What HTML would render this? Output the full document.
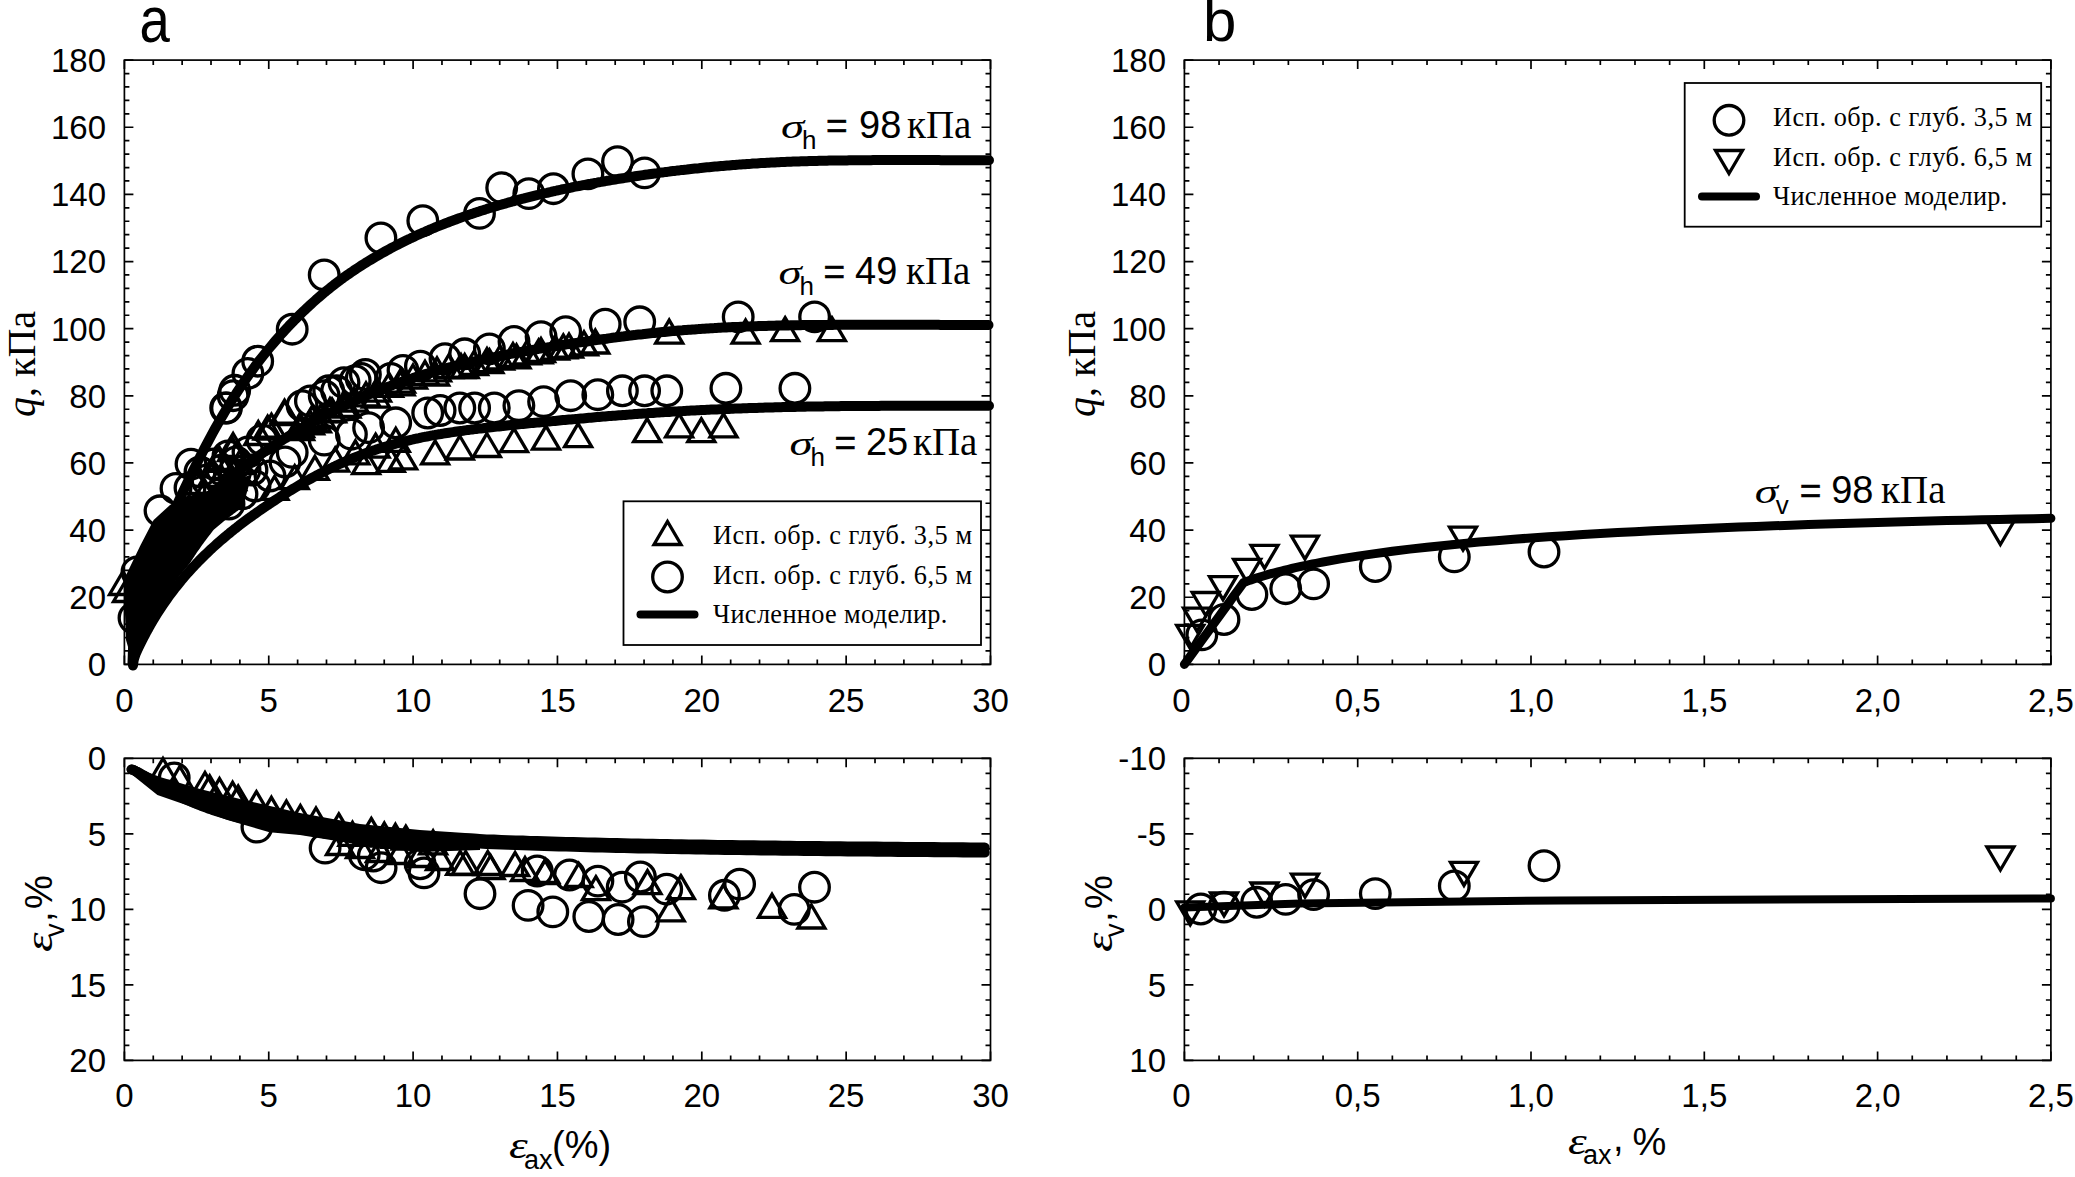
<!DOCTYPE html>
<html><head><meta charset="utf-8"><style>
html,body{margin:0;padding:0;background:#fff;width:2075px;height:1177px;overflow:hidden}
svg{display:block}
</style></head><body>
<svg width="2075" height="1177" viewBox="0 0 2075 1177"><rect x="124.4" y="60.1" width="866.1" height="604.3" fill="none" stroke="#000" stroke-width="1.7"/>
<path d="M124.40 664.4v-9M124.40 60.1v9M153.27 664.4v-5M153.27 60.1v5M182.14 664.4v-5M182.14 60.1v5M211.01 664.4v-5M211.01 60.1v5M239.88 664.4v-5M239.88 60.1v5M268.75 664.4v-9M268.75 60.1v9M297.62 664.4v-5M297.62 60.1v5M326.49 664.4v-5M326.49 60.1v5M355.36 664.4v-5M355.36 60.1v5M384.23 664.4v-5M384.23 60.1v5M413.10 664.4v-9M413.10 60.1v9M441.97 664.4v-5M441.97 60.1v5M470.84 664.4v-5M470.84 60.1v5M499.71 664.4v-5M499.71 60.1v5M528.58 664.4v-5M528.58 60.1v5M557.45 664.4v-9M557.45 60.1v9M586.32 664.4v-5M586.32 60.1v5M615.19 664.4v-5M615.19 60.1v5M644.06 664.4v-5M644.06 60.1v5M672.93 664.4v-5M672.93 60.1v5M701.80 664.4v-9M701.80 60.1v9M730.67 664.4v-5M730.67 60.1v5M759.54 664.4v-5M759.54 60.1v5M788.41 664.4v-5M788.41 60.1v5M817.28 664.4v-5M817.28 60.1v5M846.15 664.4v-9M846.15 60.1v9M875.02 664.4v-5M875.02 60.1v5M903.89 664.4v-5M903.89 60.1v5M932.76 664.4v-5M932.76 60.1v5M961.63 664.4v-5M961.63 60.1v5M990.50 664.4v-9M990.50 60.1v9M124.4 664.40h9M990.5 664.40h-9M124.4 650.97h5M990.5 650.97h-5M124.4 637.54h5M990.5 637.54h-5M124.4 624.11h5M990.5 624.11h-5M124.4 610.68h5M990.5 610.68h-5M124.4 597.26h9M990.5 597.26h-9M124.4 583.83h5M990.5 583.83h-5M124.4 570.40h5M990.5 570.40h-5M124.4 556.97h5M990.5 556.97h-5M124.4 543.54h5M990.5 543.54h-5M124.4 530.11h9M990.5 530.11h-9M124.4 516.68h5M990.5 516.68h-5M124.4 503.25h5M990.5 503.25h-5M124.4 489.82h5M990.5 489.82h-5M124.4 476.40h5M990.5 476.40h-5M124.4 462.97h9M990.5 462.97h-9M124.4 449.54h5M990.5 449.54h-5M124.4 436.11h5M990.5 436.11h-5M124.4 422.68h5M990.5 422.68h-5M124.4 409.25h5M990.5 409.25h-5M124.4 395.82h9M990.5 395.82h-9M124.4 382.39h5M990.5 382.39h-5M124.4 368.96h5M990.5 368.96h-5M124.4 355.54h5M990.5 355.54h-5M124.4 342.11h5M990.5 342.11h-5M124.4 328.68h9M990.5 328.68h-9M124.4 315.25h5M990.5 315.25h-5M124.4 301.82h5M990.5 301.82h-5M124.4 288.39h5M990.5 288.39h-5M124.4 274.96h5M990.5 274.96h-5M124.4 261.53h9M990.5 261.53h-9M124.4 248.10h5M990.5 248.10h-5M124.4 234.68h5M990.5 234.68h-5M124.4 221.25h5M990.5 221.25h-5M124.4 207.82h5M990.5 207.82h-5M124.4 194.39h9M990.5 194.39h-9M124.4 180.96h5M990.5 180.96h-5M124.4 167.53h5M990.5 167.53h-5M124.4 154.10h5M990.5 154.10h-5M124.4 140.67h5M990.5 140.67h-5M124.4 127.24h9M990.5 127.24h-9M124.4 113.82h5M990.5 113.82h-5M124.4 100.39h5M990.5 100.39h-5M124.4 86.96h5M990.5 86.96h-5M124.4 73.53h5M990.5 73.53h-5M124.4 60.10h9M990.5 60.10h-9" stroke="#000" stroke-width="1.7" fill="none"/>
<rect x="124.4" y="758.3" width="866.1" height="302.10000000000014" fill="none" stroke="#000" stroke-width="1.7"/>
<path d="M124.40 1060.4v-9M124.40 758.3v9M153.27 1060.4v-5M153.27 758.3v5M182.14 1060.4v-5M182.14 758.3v5M211.01 1060.4v-5M211.01 758.3v5M239.88 1060.4v-5M239.88 758.3v5M268.75 1060.4v-9M268.75 758.3v9M297.62 1060.4v-5M297.62 758.3v5M326.49 1060.4v-5M326.49 758.3v5M355.36 1060.4v-5M355.36 758.3v5M384.23 1060.4v-5M384.23 758.3v5M413.10 1060.4v-9M413.10 758.3v9M441.97 1060.4v-5M441.97 758.3v5M470.84 1060.4v-5M470.84 758.3v5M499.71 1060.4v-5M499.71 758.3v5M528.58 1060.4v-5M528.58 758.3v5M557.45 1060.4v-9M557.45 758.3v9M586.32 1060.4v-5M586.32 758.3v5M615.19 1060.4v-5M615.19 758.3v5M644.06 1060.4v-5M644.06 758.3v5M672.93 1060.4v-5M672.93 758.3v5M701.80 1060.4v-9M701.80 758.3v9M730.67 1060.4v-5M730.67 758.3v5M759.54 1060.4v-5M759.54 758.3v5M788.41 1060.4v-5M788.41 758.3v5M817.28 1060.4v-5M817.28 758.3v5M846.15 1060.4v-9M846.15 758.3v9M875.02 1060.4v-5M875.02 758.3v5M903.89 1060.4v-5M903.89 758.3v5M932.76 1060.4v-5M932.76 758.3v5M961.63 1060.4v-5M961.63 758.3v5M990.50 1060.4v-9M990.50 758.3v9M124.4 758.30h9M990.5 758.30h-9M124.4 773.40h5M990.5 773.40h-5M124.4 788.51h5M990.5 788.51h-5M124.4 803.62h5M990.5 803.62h-5M124.4 818.72h5M990.5 818.72h-5M124.4 833.83h9M990.5 833.83h-9M124.4 848.93h5M990.5 848.93h-5M124.4 864.03h5M990.5 864.03h-5M124.4 879.14h5M990.5 879.14h-5M124.4 894.25h5M990.5 894.25h-5M124.4 909.35h9M990.5 909.35h-9M124.4 924.46h5M990.5 924.46h-5M124.4 939.56h5M990.5 939.56h-5M124.4 954.67h5M990.5 954.67h-5M124.4 969.77h5M990.5 969.77h-5M124.4 984.88h9M990.5 984.88h-9M124.4 999.98h5M990.5 999.98h-5M124.4 1015.09h5M990.5 1015.09h-5M124.4 1030.19h5M990.5 1030.19h-5M124.4 1045.30h5M990.5 1045.30h-5M124.4 1060.40h9M990.5 1060.40h-9" stroke="#000" stroke-width="1.7" fill="none"/>
<rect x="1184.4" y="60.1" width="866.5" height="604.3" fill="none" stroke="#000" stroke-width="1.7"/>
<path d="M1184.40 664.4v-9M1184.40 60.1v9M1219.06 664.4v-5M1219.06 60.1v5M1253.72 664.4v-5M1253.72 60.1v5M1288.38 664.4v-5M1288.38 60.1v5M1323.04 664.4v-5M1323.04 60.1v5M1357.70 664.4v-9M1357.70 60.1v9M1392.36 664.4v-5M1392.36 60.1v5M1427.02 664.4v-5M1427.02 60.1v5M1461.68 664.4v-5M1461.68 60.1v5M1496.34 664.4v-5M1496.34 60.1v5M1531.00 664.4v-9M1531.00 60.1v9M1565.66 664.4v-5M1565.66 60.1v5M1600.32 664.4v-5M1600.32 60.1v5M1634.98 664.4v-5M1634.98 60.1v5M1669.64 664.4v-5M1669.64 60.1v5M1704.30 664.4v-9M1704.30 60.1v9M1738.96 664.4v-5M1738.96 60.1v5M1773.62 664.4v-5M1773.62 60.1v5M1808.28 664.4v-5M1808.28 60.1v5M1842.94 664.4v-5M1842.94 60.1v5M1877.60 664.4v-9M1877.60 60.1v9M1912.26 664.4v-5M1912.26 60.1v5M1946.92 664.4v-5M1946.92 60.1v5M1981.58 664.4v-5M1981.58 60.1v5M2016.24 664.4v-5M2016.24 60.1v5M2050.90 664.4v-9M2050.90 60.1v9M1184.4 664.40h9M2050.9 664.40h-9M1184.4 650.97h5M2050.9 650.97h-5M1184.4 637.54h5M2050.9 637.54h-5M1184.4 624.11h5M2050.9 624.11h-5M1184.4 610.68h5M2050.9 610.68h-5M1184.4 597.26h9M2050.9 597.26h-9M1184.4 583.83h5M2050.9 583.83h-5M1184.4 570.40h5M2050.9 570.40h-5M1184.4 556.97h5M2050.9 556.97h-5M1184.4 543.54h5M2050.9 543.54h-5M1184.4 530.11h9M2050.9 530.11h-9M1184.4 516.68h5M2050.9 516.68h-5M1184.4 503.25h5M2050.9 503.25h-5M1184.4 489.82h5M2050.9 489.82h-5M1184.4 476.40h5M2050.9 476.40h-5M1184.4 462.97h9M2050.9 462.97h-9M1184.4 449.54h5M2050.9 449.54h-5M1184.4 436.11h5M2050.9 436.11h-5M1184.4 422.68h5M2050.9 422.68h-5M1184.4 409.25h5M2050.9 409.25h-5M1184.4 395.82h9M2050.9 395.82h-9M1184.4 382.39h5M2050.9 382.39h-5M1184.4 368.96h5M2050.9 368.96h-5M1184.4 355.54h5M2050.9 355.54h-5M1184.4 342.11h5M2050.9 342.11h-5M1184.4 328.68h9M2050.9 328.68h-9M1184.4 315.25h5M2050.9 315.25h-5M1184.4 301.82h5M2050.9 301.82h-5M1184.4 288.39h5M2050.9 288.39h-5M1184.4 274.96h5M2050.9 274.96h-5M1184.4 261.53h9M2050.9 261.53h-9M1184.4 248.10h5M2050.9 248.10h-5M1184.4 234.68h5M2050.9 234.68h-5M1184.4 221.25h5M2050.9 221.25h-5M1184.4 207.82h5M2050.9 207.82h-5M1184.4 194.39h9M2050.9 194.39h-9M1184.4 180.96h5M2050.9 180.96h-5M1184.4 167.53h5M2050.9 167.53h-5M1184.4 154.10h5M2050.9 154.10h-5M1184.4 140.67h5M2050.9 140.67h-5M1184.4 127.24h9M2050.9 127.24h-9M1184.4 113.82h5M2050.9 113.82h-5M1184.4 100.39h5M2050.9 100.39h-5M1184.4 86.96h5M2050.9 86.96h-5M1184.4 73.53h5M2050.9 73.53h-5M1184.4 60.10h9M2050.9 60.10h-9" stroke="#000" stroke-width="1.7" fill="none"/>
<rect x="1184.4" y="758.3" width="866.5" height="302.10000000000014" fill="none" stroke="#000" stroke-width="1.7"/>
<path d="M1184.40 1060.4v-9M1184.40 758.3v9M1219.06 1060.4v-5M1219.06 758.3v5M1253.72 1060.4v-5M1253.72 758.3v5M1288.38 1060.4v-5M1288.38 758.3v5M1323.04 1060.4v-5M1323.04 758.3v5M1357.70 1060.4v-9M1357.70 758.3v9M1392.36 1060.4v-5M1392.36 758.3v5M1427.02 1060.4v-5M1427.02 758.3v5M1461.68 1060.4v-5M1461.68 758.3v5M1496.34 1060.4v-5M1496.34 758.3v5M1531.00 1060.4v-9M1531.00 758.3v9M1565.66 1060.4v-5M1565.66 758.3v5M1600.32 1060.4v-5M1600.32 758.3v5M1634.98 1060.4v-5M1634.98 758.3v5M1669.64 1060.4v-5M1669.64 758.3v5M1704.30 1060.4v-9M1704.30 758.3v9M1738.96 1060.4v-5M1738.96 758.3v5M1773.62 1060.4v-5M1773.62 758.3v5M1808.28 1060.4v-5M1808.28 758.3v5M1842.94 1060.4v-5M1842.94 758.3v5M1877.60 1060.4v-9M1877.60 758.3v9M1912.26 1060.4v-5M1912.26 758.3v5M1946.92 1060.4v-5M1946.92 758.3v5M1981.58 1060.4v-5M1981.58 758.3v5M2016.24 1060.4v-5M2016.24 758.3v5M2050.90 1060.4v-9M2050.90 758.3v9M1184.4 758.30h9M2050.9 758.30h-9M1184.4 773.40h5M2050.9 773.40h-5M1184.4 788.51h5M2050.9 788.51h-5M1184.4 803.62h5M2050.9 803.62h-5M1184.4 818.72h5M2050.9 818.72h-5M1184.4 833.83h9M2050.9 833.83h-9M1184.4 848.93h5M2050.9 848.93h-5M1184.4 864.03h5M2050.9 864.03h-5M1184.4 879.14h5M2050.9 879.14h-5M1184.4 894.25h5M2050.9 894.25h-5M1184.4 909.35h9M2050.9 909.35h-9M1184.4 924.46h5M2050.9 924.46h-5M1184.4 939.56h5M2050.9 939.56h-5M1184.4 954.67h5M2050.9 954.67h-5M1184.4 969.77h5M2050.9 969.77h-5M1184.4 984.88h9M2050.9 984.88h-9M1184.4 999.98h5M2050.9 999.98h-5M1184.4 1015.09h5M2050.9 1015.09h-5M1184.4 1030.19h5M2050.9 1030.19h-5M1184.4 1045.30h5M2050.9 1045.30h-5M1184.4 1060.40h9M2050.9 1060.40h-9" stroke="#000" stroke-width="1.7" fill="none"/>
<text x="124.4" y="712" font-family='"Liberation Sans", sans-serif' font-size="33" text-anchor="middle">0</text>
<text x="268.8" y="712" font-family='"Liberation Sans", sans-serif' font-size="33" text-anchor="middle">5</text>
<text x="413.1" y="712" font-family='"Liberation Sans", sans-serif' font-size="33" text-anchor="middle">10</text>
<text x="557.5" y="712" font-family='"Liberation Sans", sans-serif' font-size="33" text-anchor="middle">15</text>
<text x="701.8" y="712" font-family='"Liberation Sans", sans-serif' font-size="33" text-anchor="middle">20</text>
<text x="846.1" y="712" font-family='"Liberation Sans", sans-serif' font-size="33" text-anchor="middle">25</text>
<text x="990.5" y="712" font-family='"Liberation Sans", sans-serif' font-size="33" text-anchor="middle">30</text>
<text x="124.4" y="1107" font-family='"Liberation Sans", sans-serif' font-size="33" text-anchor="middle">0</text>
<text x="268.8" y="1107" font-family='"Liberation Sans", sans-serif' font-size="33" text-anchor="middle">5</text>
<text x="413.1" y="1107" font-family='"Liberation Sans", sans-serif' font-size="33" text-anchor="middle">10</text>
<text x="557.5" y="1107" font-family='"Liberation Sans", sans-serif' font-size="33" text-anchor="middle">15</text>
<text x="701.8" y="1107" font-family='"Liberation Sans", sans-serif' font-size="33" text-anchor="middle">20</text>
<text x="846.1" y="1107" font-family='"Liberation Sans", sans-serif' font-size="33" text-anchor="middle">25</text>
<text x="990.5" y="1107" font-family='"Liberation Sans", sans-serif' font-size="33" text-anchor="middle">30</text>
<text x="1181.4" y="712" font-family='"Liberation Sans", sans-serif' font-size="33" text-anchor="middle">0</text>
<text x="1357.7" y="712" font-family='"Liberation Sans", sans-serif' font-size="33" text-anchor="middle">0,5</text>
<text x="1531.0" y="712" font-family='"Liberation Sans", sans-serif' font-size="33" text-anchor="middle">1,0</text>
<text x="1704.3" y="712" font-family='"Liberation Sans", sans-serif' font-size="33" text-anchor="middle">1,5</text>
<text x="1877.6" y="712" font-family='"Liberation Sans", sans-serif' font-size="33" text-anchor="middle">2,0</text>
<text x="2050.9" y="712" font-family='"Liberation Sans", sans-serif' font-size="33" text-anchor="middle">2,5</text>
<text x="1181.4" y="1107" font-family='"Liberation Sans", sans-serif' font-size="33" text-anchor="middle">0</text>
<text x="1357.7" y="1107" font-family='"Liberation Sans", sans-serif' font-size="33" text-anchor="middle">0,5</text>
<text x="1531.0" y="1107" font-family='"Liberation Sans", sans-serif' font-size="33" text-anchor="middle">1,0</text>
<text x="1704.3" y="1107" font-family='"Liberation Sans", sans-serif' font-size="33" text-anchor="middle">1,5</text>
<text x="1877.6" y="1107" font-family='"Liberation Sans", sans-serif' font-size="33" text-anchor="middle">2,0</text>
<text x="2050.9" y="1107" font-family='"Liberation Sans", sans-serif' font-size="33" text-anchor="middle">2,5</text>
<text x="106" y="676.2" font-family='"Liberation Sans", sans-serif' font-size="33" text-anchor="end">0</text>
<text x="106" y="609.1" font-family='"Liberation Sans", sans-serif' font-size="33" text-anchor="end">20</text>
<text x="106" y="541.9" font-family='"Liberation Sans", sans-serif' font-size="33" text-anchor="end">40</text>
<text x="106" y="474.8" font-family='"Liberation Sans", sans-serif' font-size="33" text-anchor="end">60</text>
<text x="106" y="407.6" font-family='"Liberation Sans", sans-serif' font-size="33" text-anchor="end">80</text>
<text x="106" y="340.5" font-family='"Liberation Sans", sans-serif' font-size="33" text-anchor="end">100</text>
<text x="106" y="273.3" font-family='"Liberation Sans", sans-serif' font-size="33" text-anchor="end">120</text>
<text x="106" y="206.2" font-family='"Liberation Sans", sans-serif' font-size="33" text-anchor="end">140</text>
<text x="106" y="139.0" font-family='"Liberation Sans", sans-serif' font-size="33" text-anchor="end">160</text>
<text x="106" y="71.9" font-family='"Liberation Sans", sans-serif' font-size="33" text-anchor="end">180</text>
<text x="1166" y="676.2" font-family='"Liberation Sans", sans-serif' font-size="33" text-anchor="end">0</text>
<text x="1166" y="609.1" font-family='"Liberation Sans", sans-serif' font-size="33" text-anchor="end">20</text>
<text x="1166" y="541.9" font-family='"Liberation Sans", sans-serif' font-size="33" text-anchor="end">40</text>
<text x="1166" y="474.8" font-family='"Liberation Sans", sans-serif' font-size="33" text-anchor="end">60</text>
<text x="1166" y="407.6" font-family='"Liberation Sans", sans-serif' font-size="33" text-anchor="end">80</text>
<text x="1166" y="340.5" font-family='"Liberation Sans", sans-serif' font-size="33" text-anchor="end">100</text>
<text x="1166" y="273.3" font-family='"Liberation Sans", sans-serif' font-size="33" text-anchor="end">120</text>
<text x="1166" y="206.2" font-family='"Liberation Sans", sans-serif' font-size="33" text-anchor="end">140</text>
<text x="1166" y="139.0" font-family='"Liberation Sans", sans-serif' font-size="33" text-anchor="end">160</text>
<text x="1166" y="71.9" font-family='"Liberation Sans", sans-serif' font-size="33" text-anchor="end">180</text>
<text x="106" y="770.1" font-family='"Liberation Sans", sans-serif' font-size="33" text-anchor="end">0</text>
<text x="106" y="845.6" font-family='"Liberation Sans", sans-serif' font-size="33" text-anchor="end">5</text>
<text x="106" y="921.1" font-family='"Liberation Sans", sans-serif' font-size="33" text-anchor="end">10</text>
<text x="106" y="996.7" font-family='"Liberation Sans", sans-serif' font-size="33" text-anchor="end">15</text>
<text x="106" y="1072.2" font-family='"Liberation Sans", sans-serif' font-size="33" text-anchor="end">20</text>
<text x="1166" y="770.1" font-family='"Liberation Sans", sans-serif' font-size="33" text-anchor="end">-10</text>
<text x="1166" y="845.6" font-family='"Liberation Sans", sans-serif' font-size="33" text-anchor="end">-5</text>
<text x="1166" y="921.1" font-family='"Liberation Sans", sans-serif' font-size="33" text-anchor="end">0</text>
<text x="1166" y="996.7" font-family='"Liberation Sans", sans-serif' font-size="33" text-anchor="end">5</text>
<text x="1166" y="1072.2" font-family='"Liberation Sans", sans-serif' font-size="33" text-anchor="end">10</text>
<text transform="translate(139.6,41.9) scale(0.91,1.07)" font-family='"Liberation Sans", sans-serif' font-size="60">a</text>
<text x="1203" y="41" font-family='"Liberation Sans", sans-serif' font-size="60">b</text>
<text transform="translate(34.5,364) rotate(-90)" text-anchor="middle" font-family='"Liberation Serif", serif' font-size="40"><tspan font-style="italic">q</tspan>, кПа</text>
<text transform="translate(1094.5,364) rotate(-90)" text-anchor="middle" font-family='"Liberation Serif", serif' font-size="40"><tspan font-style="italic">q</tspan>, кПа</text>
<g transform="translate(52,914) rotate(-90)"><text transform="translate(-38,0) scale(1.3,1)" font-family='"Liberation Serif", serif' font-style="italic" font-size="38">ε</text><text x="-23" y="11.5" font-family='"Liberation Sans", sans-serif' font-size="27">v</text><text x="-8" y="0" font-family='"Liberation Sans", sans-serif' font-size="38">,</text><text x="5.1" y="0" font-family='"Liberation Sans", sans-serif' font-size="38">%</text></g>
<g transform="translate(1112,914) rotate(-90)"><text transform="translate(-38,0) scale(1.3,1)" font-family='"Liberation Serif", serif' font-style="italic" font-size="38">ε</text><text x="-23" y="11.5" font-family='"Liberation Sans", sans-serif' font-size="27">v</text><text x="-8" y="0" font-family='"Liberation Sans", sans-serif' font-size="38">,</text><text x="5.1" y="0" font-family='"Liberation Sans", sans-serif' font-size="38">%</text></g>
<text transform="translate(509,1158) scale(1.25,1)" font-family='"Liberation Serif", serif' font-style="italic" font-size="38">ε</text>
<text x="524" y="1169" font-family='"Liberation Sans", sans-serif' font-size="27">ax</text>
<text x="552" y="1158" font-family='"Liberation Sans", sans-serif' font-size="38">(%)</text>
<text transform="translate(1568,1154) scale(1.25,1)" font-family='"Liberation Serif", serif' font-style="italic" font-size="38">ε</text>
<text x="1583" y="1164" font-family='"Liberation Sans", sans-serif' font-size="27">ax</text>
<text x="1613" y="1150.5" font-family='"Liberation Sans", sans-serif' font-size="38">,</text>
<text x="1632.5" y="1155" font-family='"Liberation Sans", sans-serif' font-size="38">%</text>
<text transform="translate(781,137.6) scale(1.38,1)" font-family='"Liberation Serif", serif' font-style="italic" font-size="34">σ</text>
<text x="802" y="148.6" font-family='"Liberation Sans", sans-serif' font-size="26">h</text>
<text x="826" y="137.6" font-family='"Liberation Sans", sans-serif' font-size="37" stroke="#000" stroke-width="0.6">=</text>
<text x="859" y="138.1" font-family='"Liberation Sans", sans-serif' font-size="38">98</text>
<text x="907" y="137.6" font-family='"Liberation Serif", serif' font-size="39">кПа</text>
<text transform="translate(778.5,283.8) scale(1.38,1)" font-family='"Liberation Serif", serif' font-style="italic" font-size="34">σ</text>
<text x="799.5" y="294.8" font-family='"Liberation Sans", sans-serif' font-size="26">h</text>
<text x="823.5" y="283.8" font-family='"Liberation Sans", sans-serif' font-size="37" stroke="#000" stroke-width="0.6">=</text>
<text x="855.0" y="284.3" font-family='"Liberation Sans", sans-serif' font-size="38">49</text>
<text x="906.0" y="283.8" font-family='"Liberation Serif", serif' font-size="39">кПа</text>
<text transform="translate(789.4,454.6) scale(1.38,1)" font-family='"Liberation Serif", serif' font-style="italic" font-size="34">σ</text>
<text x="810.4" y="465.6" font-family='"Liberation Sans", sans-serif' font-size="26">h</text>
<text x="834.4" y="454.6" font-family='"Liberation Sans", sans-serif' font-size="37" stroke="#000" stroke-width="0.6">=</text>
<text x="865.9" y="455.1" font-family='"Liberation Sans", sans-serif' font-size="38">25</text>
<text x="913.0" y="454.6" font-family='"Liberation Serif", serif' font-size="39">кПа</text>
<text transform="translate(1754.7,502.8) scale(1.38,1)" font-family='"Liberation Serif", serif' font-style="italic" font-size="34">σ</text>
<text x="1775.7" y="513.8" font-family='"Liberation Sans", sans-serif' font-size="26">v</text>
<text x="1799.7" y="502.8" font-family='"Liberation Sans", sans-serif' font-size="37" stroke="#000" stroke-width="0.6">=</text>
<text x="1831.2" y="503.3" font-family='"Liberation Sans", sans-serif' font-size="38">98</text>
<text x="1881.1000000000001" y="502.8" font-family='"Liberation Serif", serif' font-size="39">кПа</text>
<path d="M126.0 640.0L123.7 580.0L140.6 545.0L153.6 520.0L170.0 505.0L185.0 497.0L200.0 493.0L215.0 489.0L235.0 481.0L252.0 474.0L242.8 507.2L242.0 507.8L241.1 508.4L240.2 509.0L239.3 509.7L238.4 510.3L237.5 510.9L236.6 511.6L235.7 512.2L234.8 512.9L233.9 513.5L233.1 514.2L232.2 514.9L231.3 515.5L230.4 516.2L229.5 516.9L228.6 517.6L227.7 518.3L226.8 519.0L225.9 519.7L225.0 520.4L224.1 521.1L223.3 521.8L222.4 522.5L221.5 523.3L220.6 524.0L219.7 524.7L218.8 525.5L217.9 526.2L217.0 527.0L216.1 527.7L215.2 528.5L214.3 529.3L213.5 530.1L212.7 531.1L212.0 532.0L211.2 533.0L210.5 533.9L209.7 534.9L209.0 535.8L208.3 536.8L207.5 537.8L206.8 538.8L206.0 539.8L205.3 540.8L204.5 541.8L203.8 542.8L203.1 543.8L202.3 544.8L201.6 545.8L200.9 546.8L200.1 547.9L199.4 548.9L198.7 550.0L197.9 551.0L197.2 552.1L196.5 553.1L195.8 554.2L195.0 555.3L194.3 556.4L193.6 557.5L192.9 558.6L192.2 559.7L191.4 560.8L190.7 561.9L190.0 563.0L189.3 564.1L188.4 565.1L187.6 566.2L186.7 567.2L185.8 568.2L184.9 569.2L184.1 570.3L183.2 571.3L182.3 572.4L181.5 573.5L180.6 574.6L179.7 575.6L178.8 576.7L178.0 577.9L177.1 579.0L176.2 580.1L175.4 581.3L174.5 582.4L173.6 583.6L172.7 584.8L171.9 585.9L171.0 587.1L170.1 588.3L169.3 589.6L168.4 590.8L167.5 592.0L166.6 593.3L165.8 594.6L164.9 595.8L164.0 597.1L163.2 598.4L162.3 599.7L161.4 601.1L160.5 602.4L159.7 603.8L158.8 605.1L157.9 606.5L157.1 607.9L156.2 609.3L155.3 610.7L154.4 612.2L153.6 613.6L152.7 615.1L151.8 616.6L151.0 618.1L150.1 619.6L149.2 621.1L148.4 622.6L147.5 624.2L146.6 625.8L145.7 627.4L144.9 629.0L144.0 630.6L143.1 632.2L142.3 633.9L141.4 635.5L140.5 637.2L139.7 638.9L138.8 640.7L137.9 642.4L137.0 644.2L136.2 645.9L135.3 647.7L134.4 649.5L133.6 651.4L132.7 653.2L133.0 664.0Z" fill="#000"/>
<path d="M133.0 663.7L133.5 648.5L134.0 642.2L134.5 637.4L135.0 633.2L135.5 629.6L136.0 626.3L136.5 623.2L137.0 620.4L137.5 617.7L138.0 615.1L138.5 612.7L139.0 610.4L139.5 608.1L140.0 605.9L140.5 603.8L141.0 601.8L141.5 599.8L142.0 597.9L142.5 596.0L143.0 594.1L143.5 592.3L144.0 590.5L144.5 588.8L145.0 587.1L145.5 585.4L146.0 583.7L146.5 582.1L147.0 580.5L147.5 578.9L148.0 577.4L148.5 575.8L149.0 574.3L149.5 572.8L150.0 571.3L150.5 569.9L151.0 568.4L151.5 567.0L152.0 565.5L152.5 564.1L153.0 562.7L155.0 557.3L157.0 552.0L159.0 546.8L161.0 541.8L163.0 536.9L165.0 532.0L167.0 527.3L169.0 522.7L171.0 518.1L173.0 513.6L175.0 509.1L177.0 504.7L179.0 500.4L181.0 496.1L183.0 491.8L185.0 487.5L187.0 483.4L189.0 479.2L191.0 475.1L193.0 471.0L195.0 467.0L197.0 463.0L199.0 459.0L201.0 455.1L203.0 451.2L205.0 447.4L207.0 443.6L209.0 439.8L211.0 436.1L213.0 432.4L215.0 428.8L217.0 425.3L219.0 421.8L221.0 418.3L223.0 414.9L225.0 411.5L227.0 408.2L229.0 404.9L231.0 401.7L233.0 398.5L235.0 395.4L237.0 392.3L239.0 389.3L241.0 386.3L243.0 383.3L245.0 380.4L247.0 377.5L249.0 374.7L251.0 371.9L253.0 369.2L255.0 366.4L257.0 363.8L259.0 361.1L261.0 358.5L263.0 356.0L265.0 353.5L267.0 351.0L269.0 348.5L271.0 346.1L273.0 343.7L275.0 341.4L277.0 339.1L279.0 336.8L281.0 334.5L283.0 332.3L285.0 330.1L287.0 328.0L289.0 325.8L291.0 323.7L293.0 321.7L295.0 319.6L297.0 317.6L299.0 315.6L301.0 313.6L303.0 311.7L305.0 309.8L307.0 307.9L309.0 306.0L311.0 304.2L313.0 302.4L315.0 300.6L317.0 298.8L319.0 297.1L321.0 295.4L323.0 293.7L325.0 292.0L327.0 290.4L329.0 288.8L331.0 287.2L333.0 285.6L335.0 284.0L337.0 282.5L339.0 281.0L341.0 279.5L343.0 278.1L345.0 276.6L347.0 275.2L349.0 273.8L351.0 272.4L353.0 271.1L355.0 269.7L357.0 268.4L359.0 267.1L361.0 265.8L363.0 264.5L365.0 263.3L367.0 262.0L369.0 260.8L371.0 259.6L373.0 258.4L375.0 257.2L377.0 256.0L379.0 254.9L381.0 253.7L383.0 252.6L385.0 251.5L387.0 250.4L389.0 249.3L391.0 248.2L393.0 247.1L395.0 246.1L397.0 245.1L399.0 244.0L401.0 243.0L403.0 242.0L405.0 241.0L407.0 240.0L409.0 239.1L411.0 238.1L413.0 237.2L415.0 236.2L417.0 235.3L419.0 234.4L421.0 233.5L423.0 232.6L425.0 231.8L427.0 230.9L429.0 230.0L431.0 229.2L433.0 228.3L435.0 227.5L437.0 226.7L439.0 225.9L441.0 225.1L443.0 224.3L445.0 223.5L447.0 222.8L449.0 222.0L451.0 221.2L453.0 220.5L455.0 219.8L457.0 219.0L459.0 218.3L461.0 217.6L463.0 216.9L465.0 216.2L467.0 215.5L469.0 214.8L471.0 214.1L473.0 213.5L475.0 212.8L477.0 212.1L479.0 211.5L481.0 210.8L483.0 210.2L485.0 209.6L487.0 208.9L489.0 208.3L491.0 207.7L493.0 207.1L495.0 206.5L497.0 205.9L499.0 205.3L501.0 204.7L503.0 204.1L505.0 203.6L507.0 203.0L509.0 202.4L511.0 201.9L513.0 201.3L515.0 200.8L517.0 200.2L519.0 199.7L521.0 199.2L523.0 198.7L525.0 198.1L527.0 197.6L529.0 197.1L531.0 196.6L533.0 196.1L535.0 195.6L537.0 195.1L539.0 194.7L541.0 194.2L543.0 193.7L545.0 193.2L547.0 192.8L549.0 192.3L551.0 191.9L553.0 191.4L555.0 191.0L557.0 190.5L559.0 190.1L561.0 189.7L563.0 189.2L565.0 188.8L567.0 188.4L569.0 188.0L571.0 187.6L573.0 187.1L575.0 186.7L577.0 186.3L579.0 186.0L581.0 185.6L583.0 185.2L585.0 184.8L587.0 184.4L589.0 184.0L591.0 183.7L593.0 183.3L595.0 182.9L597.0 182.6L599.0 182.2L601.0 181.9L603.0 181.5L605.0 181.2L607.0 180.8L609.0 180.5L611.0 180.1L613.0 179.8L615.0 179.5L617.0 179.1L619.0 178.8L621.0 178.5L623.0 178.2L625.0 177.9L627.0 177.5L629.0 177.2L631.0 176.9L633.0 176.6L635.0 176.3L637.0 176.0L639.0 175.7L641.0 175.4L643.0 175.1L645.0 174.8L647.0 174.6L649.0 174.3L651.0 174.0L653.0 173.7L655.0 173.4L657.0 173.2L659.0 172.9L661.0 172.6L663.0 172.4L665.0 172.1L667.0 171.9L669.0 171.6L671.0 171.3L673.0 171.1L675.0 170.9L677.0 170.6L679.0 170.4L681.0 170.1L683.0 169.9L685.0 169.7L687.0 169.5L689.0 169.2L691.0 169.0L693.0 168.8L695.0 168.6L697.0 168.4L699.0 168.2L701.0 167.9L703.0 167.7L705.0 167.5L707.0 167.3L709.0 167.2L711.0 167.0L713.0 166.8L715.0 166.6L717.0 166.4L719.0 166.2L721.0 166.0L723.0 165.9L725.0 165.7L727.0 165.5L729.0 165.4L731.0 165.2L733.0 165.0L735.0 164.9L737.0 164.7L739.0 164.6L741.0 164.4L743.0 164.3L745.0 164.2L747.0 164.0L749.0 163.9L751.0 163.8L753.0 163.6L755.0 163.5L757.0 163.4L759.0 163.2L761.0 163.1L763.0 163.0L765.0 162.9L767.0 162.8L769.0 162.7L771.0 162.6L773.0 162.5L775.0 162.4L777.0 162.3L779.0 162.2L781.0 162.1L783.0 162.0L785.0 161.9L787.0 161.8L789.0 161.8L791.0 161.7L793.0 161.6L795.0 161.5L797.0 161.5L799.0 161.4L801.0 161.3L803.0 161.3L805.0 161.2L807.0 161.2L809.0 161.1L811.0 161.0L813.0 161.0L815.0 160.9L817.0 160.9L819.0 160.8L821.0 160.8L823.0 160.8L825.0 160.7L827.0 160.7L829.0 160.6L831.0 160.6L833.0 160.6L835.0 160.5L837.0 160.5L839.0 160.5L841.0 160.4L843.0 160.4L845.0 160.4L847.0 160.4L849.0 160.3L851.0 160.3L853.0 160.3L855.0 160.3L857.0 160.3L859.0 160.2L861.0 160.2L863.0 160.2L865.0 160.2L867.0 160.2L869.0 160.2L871.0 160.2L873.0 160.1L875.0 160.1L877.0 160.1L879.0 160.1L881.0 160.1L883.0 160.1L885.0 160.1L887.0 160.1L889.0 160.1L891.0 160.1L893.0 160.1L895.0 160.1L897.0 160.1L899.0 160.1L901.0 160.1L903.0 160.1L905.0 160.1L907.0 160.1L909.0 160.1L911.0 160.1L913.0 160.1L915.0 160.1L917.0 160.1L919.0 160.1L921.0 160.1L923.0 160.1L925.0 160.1L927.0 160.1L929.0 160.1L931.0 160.1L933.0 160.1L935.0 160.1L937.0 160.1L939.0 160.1L941.0 160.2L943.0 160.2L945.0 160.2L947.0 160.2L949.0 160.2L951.0 160.2L953.0 160.2L955.0 160.2L957.0 160.2L959.0 160.2L961.0 160.2L963.0 160.2L965.0 160.2L967.0 160.2L969.0 160.3L971.0 160.3L973.0 160.3L975.0 160.3L977.0 160.3L979.0 160.3L981.0 160.3L983.0 160.3L985.0 160.3L987.0 160.3L989.0 160.3" fill="none" stroke="#000" stroke-width="10" stroke-linecap="round" stroke-linejoin="round"/>
<path d="M132.5 662.9L133.0 648.9L133.5 643.1L134.0 638.6L134.5 634.9L135.0 631.6L135.5 628.6L136.0 625.9L136.5 623.4L137.0 621.0L137.5 618.7L138.0 616.6L138.5 614.5L139.0 612.6L139.5 610.7L140.0 608.9L140.5 607.1L141.0 605.4L141.5 603.8L142.0 602.2L142.5 600.6L143.0 599.1L143.5 597.6L144.0 596.1L144.5 594.7L145.0 593.3L145.5 592.0L146.0 590.7L146.5 589.3L147.0 588.1L147.5 586.8L148.0 585.6L148.5 584.4L149.0 583.2L149.5 582.0L150.0 580.8L150.5 579.7L151.0 578.6L151.5 577.5L152.0 576.4L152.5 575.3L154.5 571.1L156.5 567.1L158.5 563.3L160.5 559.7L162.5 556.2L164.5 552.8L166.5 549.6L168.5 546.4L170.5 543.3L172.5 540.4L174.5 537.5L176.5 534.7L178.5 531.9L180.5 529.3L182.5 526.7L184.5 524.1L186.5 521.6L188.5 519.2L190.5 516.8L192.5 514.5L194.5 512.2L196.5 510.0L198.5 507.8L200.5 505.6L202.5 503.5L204.5 501.5L206.5 499.4L208.5 497.4L210.5 495.4L212.5 493.5L214.5 491.6L216.5 489.7L218.5 487.9L220.5 486.0L222.5 484.2L224.5 482.5L226.5 480.7L228.5 479.0L230.5 477.3L232.5 475.7L234.5 474.0L236.5 472.4L238.5 470.8L240.5 469.2L242.5 467.7L244.5 466.1L246.5 464.6L248.5 463.1L250.5 461.6L252.5 460.2L254.5 458.7L256.5 457.3L258.5 455.9L260.5 454.5L262.5 453.1L264.5 451.7L266.5 450.4L268.5 449.0L270.5 447.7L272.5 446.4L274.5 445.1L276.5 443.8L278.5 442.5L280.5 441.3L282.5 440.0L284.5 438.8L286.5 437.6L288.5 436.3L290.5 435.1L292.5 433.9L294.5 432.7L296.5 431.5L298.5 430.4L300.5 429.2L302.5 428.0L304.5 426.9L306.5 425.7L308.5 424.6L310.5 423.5L312.5 422.4L314.5 421.3L316.5 420.1L318.5 419.1L320.5 418.0L322.5 416.9L324.5 415.8L326.5 414.8L328.5 413.7L330.5 412.7L332.5 411.6L334.5 410.6L336.5 409.6L338.5 408.6L340.5 407.6L342.5 406.6L344.5 405.6L346.5 404.7L348.5 403.7L350.5 402.8L352.5 401.9L354.5 400.9L356.5 400.0L358.5 399.1L360.5 398.2L362.5 397.3L364.5 396.4L366.5 395.6L368.5 394.7L370.5 393.9L372.5 393.0L374.5 392.2L376.5 391.4L378.5 390.6L380.5 389.8L382.5 389.0L384.5 388.2L386.5 387.4L388.5 386.6L390.5 385.9L392.5 385.1L394.5 384.4L396.5 383.7L398.5 383.0L400.5 382.2L402.5 381.5L404.5 380.8L406.5 380.2L408.5 379.5L410.5 378.8L412.5 378.2L414.5 377.5L416.5 376.9L418.5 376.3L420.5 375.6L422.5 375.0L424.5 374.4L426.5 373.8L428.5 373.2L430.5 372.6L432.5 372.1L434.5 371.5L436.5 370.9L438.5 370.4L440.5 369.8L442.5 369.3L444.5 368.7L446.5 368.2L448.5 367.7L450.5 367.2L452.5 366.6L454.5 366.1L456.5 365.6L458.5 365.1L460.5 364.6L462.5 364.2L464.5 363.7L466.5 363.2L468.5 362.7L470.5 362.3L472.5 361.8L474.5 361.4L476.5 360.9L478.5 360.5L480.5 360.0L482.5 359.6L484.5 359.2L486.5 358.7L488.5 358.3L490.5 357.9L492.5 357.5L494.5 357.1L496.5 356.7L498.5 356.3L500.5 355.9L502.5 355.5L504.5 355.1L506.5 354.7L508.5 354.3L510.5 353.9L512.5 353.5L514.5 353.2L516.5 352.8L518.5 352.4L520.5 352.1L522.5 351.7L524.5 351.4L526.5 351.0L528.5 350.6L530.5 350.3L532.5 350.0L534.5 349.6L536.5 349.3L538.5 348.9L540.5 348.6L542.5 348.3L544.5 347.9L546.5 347.6L548.5 347.3L550.5 346.9L552.5 346.6L554.5 346.3L556.5 346.0L558.5 345.7L560.5 345.4L562.5 345.0L564.5 344.7L566.5 344.4L568.5 344.1L570.5 343.8L572.5 343.5L574.5 343.2L576.5 342.9L578.5 342.6L580.5 342.3L582.5 342.0L584.5 341.7L586.5 341.5L588.5 341.2L590.5 340.9L592.5 340.6L594.5 340.3L596.5 340.0L598.5 339.8L600.5 339.5L602.5 339.2L604.5 338.9L606.5 338.7L608.5 338.4L610.5 338.1L612.5 337.8L614.5 337.6L616.5 337.3L618.5 337.1L620.5 336.8L622.5 336.6L624.5 336.3L626.5 336.1L628.5 335.8L630.5 335.6L632.5 335.3L634.5 335.1L636.5 334.8L638.5 334.6L640.5 334.4L642.5 334.2L644.5 333.9L646.5 333.7L648.5 333.5L650.5 333.3L652.5 333.1L654.5 332.9L656.5 332.7L658.5 332.5L660.5 332.3L662.5 332.1L664.5 331.9L666.5 331.7L668.5 331.5L670.5 331.3L672.5 331.1L674.5 331.0L676.5 330.8L678.5 330.6L680.5 330.4L682.5 330.3L684.5 330.1L686.5 330.0L688.5 329.8L690.5 329.7L692.5 329.5L694.5 329.4L696.5 329.2L698.5 329.1L700.5 328.9L702.5 328.8L704.5 328.7L706.5 328.5L708.5 328.4L710.5 328.3L712.5 328.2L714.5 328.1L716.5 327.9L718.5 327.8L720.5 327.7L722.5 327.6L724.5 327.5L726.5 327.4L728.5 327.3L730.5 327.2L732.5 327.1L734.5 327.0L736.5 326.9L738.5 326.9L740.5 326.8L742.5 326.7L744.5 326.6L746.5 326.5L748.5 326.5L750.5 326.4L752.5 326.3L754.5 326.2L756.5 326.2L758.5 326.1L760.5 326.1L762.5 326.0L764.5 325.9L766.5 325.9L768.5 325.8L770.5 325.8L772.5 325.7L774.5 325.7L776.5 325.6L778.5 325.6L780.5 325.5L782.5 325.5L784.5 325.5L786.5 325.4L788.5 325.4L790.5 325.3L792.5 325.3L794.5 325.3L796.5 325.2L798.5 325.2L800.5 325.2L802.5 325.1L804.5 325.1L806.5 325.1L808.5 325.1L810.5 325.0L812.5 325.0L814.5 325.0L816.5 325.0L818.5 325.0L820.5 324.9L822.5 324.9L824.5 324.9L826.5 324.9L828.5 324.9L830.5 324.9L832.5 324.9L834.5 324.8L836.5 324.8L838.5 324.8L840.5 324.8L842.5 324.8L844.5 324.8L846.5 324.8L848.5 324.8L850.5 324.8L852.5 324.8L854.5 324.8L856.5 324.8L858.5 324.8L860.5 324.7L862.5 324.7L864.5 324.7L866.5 324.7L868.5 324.7L870.5 324.7L872.5 324.7L874.5 324.7L876.5 324.7L878.5 324.7L880.5 324.7L882.5 324.7L884.5 324.7L886.5 324.7L888.5 324.7L890.5 324.7L892.5 324.7L894.5 324.7L896.5 324.7L898.5 324.8L900.5 324.8L902.5 324.8L904.5 324.8L906.5 324.8L908.5 324.8L910.5 324.8L912.5 324.8L914.5 324.8L916.5 324.8L918.5 324.8L920.5 324.8L922.5 324.8L924.5 324.8L926.5 324.8L928.5 324.8L930.5 324.8L932.5 324.8L934.5 324.8L936.5 324.8L938.5 324.8L940.5 324.9L942.5 324.9L944.5 324.9L946.5 324.9L948.5 324.9L950.5 324.9L952.5 324.9L954.5 324.9L956.5 324.9L958.5 324.9L960.5 324.9L962.5 324.9L964.5 324.9L966.5 324.9L968.5 324.9L970.5 324.9L972.5 325.0L974.5 325.0L976.5 325.0L978.5 325.0L980.5 325.0L982.5 325.0L984.5 325.0L986.5 325.0L988.5 325.0" fill="none" stroke="#000" stroke-width="10" stroke-linecap="round" stroke-linejoin="round"/>
<path d="M133.0 665.5L133.5 660.9L134.0 658.8L134.5 657.2L135.0 655.8L135.5 654.4L136.0 653.2L136.5 652.0L137.0 650.9L137.5 649.8L138.0 648.7L138.5 647.6L139.0 646.6L139.5 645.5L140.0 644.5L140.5 643.5L141.0 642.5L141.5 641.5L142.0 640.5L142.5 639.5L143.0 638.5L143.5 637.6L144.0 636.6L144.5 635.7L145.0 634.7L145.5 633.8L146.0 632.8L146.5 631.9L147.0 631.0L147.5 630.1L148.0 629.2L148.5 628.3L149.0 627.4L149.5 626.5L150.0 625.6L150.5 624.7L151.0 623.9L151.5 623.0L152.0 622.1L152.5 621.3L153.0 620.4L155.0 617.1L157.0 613.9L159.0 610.8L161.0 607.7L163.0 604.7L165.0 601.8L167.0 599.0L169.0 596.2L171.0 593.5L173.0 590.9L175.0 588.3L177.0 585.8L179.0 583.3L181.0 580.8L183.0 578.5L185.0 576.1L187.0 573.8L189.0 571.6L191.0 569.4L193.0 567.2L195.0 565.1L197.0 563.0L199.0 560.9L201.0 558.9L203.0 556.9L205.0 554.9L207.0 553.0L209.0 551.1L211.0 549.2L213.0 547.4L215.0 545.6L217.0 543.8L219.0 542.0L221.0 540.3L223.0 538.6L225.0 536.9L227.0 535.2L229.0 533.6L231.0 531.9L233.0 530.3L235.0 528.7L237.0 527.2L239.0 525.6L241.0 524.1L243.0 522.6L245.0 521.1L247.0 519.6L249.0 518.1L251.0 516.7L253.0 515.2L255.0 513.8L257.0 512.4L259.0 511.0L261.0 509.6L263.0 508.2L265.0 506.9L267.0 505.5L269.0 504.2L271.0 502.8L273.0 501.5L275.0 500.2L277.0 498.9L279.0 497.6L281.0 496.3L283.0 495.1L285.0 493.8L287.0 492.6L289.0 491.3L291.0 490.1L293.0 488.9L295.0 487.7L297.0 486.5L299.0 485.3L301.0 484.1L303.0 483.0L305.0 481.8L307.0 480.7L309.0 479.6L311.0 478.5L313.0 477.4L315.0 476.3L317.0 475.2L319.0 474.2L321.0 473.1L323.0 472.1L325.0 471.1L327.0 470.1L329.0 469.1L331.0 468.1L333.0 467.1L335.0 466.2L337.0 465.2L339.0 464.3L341.0 463.4L343.0 462.5L345.0 461.6L347.0 460.7L349.0 459.9L351.0 459.0L353.0 458.2L355.0 457.4L357.0 456.6L359.0 455.8L361.0 455.0L363.0 454.2L365.0 453.5L367.0 452.8L369.0 452.0L371.0 451.3L373.0 450.6L375.0 450.0L377.0 449.3L379.0 448.6L381.0 448.0L383.0 447.4L385.0 446.8L387.0 446.2L389.0 445.6L391.0 445.0L393.0 444.4L395.0 443.9L397.0 443.3L399.0 442.8L401.0 442.3L403.0 441.8L405.0 441.3L407.0 440.8L409.0 440.3L411.0 439.8L413.0 439.4L415.0 438.9L417.0 438.5L419.0 438.1L421.0 437.6L423.0 437.2L425.0 436.8L427.0 436.5L429.0 436.1L431.0 435.7L433.0 435.3L435.0 435.0L437.0 434.6L439.0 434.3L441.0 434.0L443.0 433.6L445.0 433.3L447.0 433.0L449.0 432.7L451.0 432.4L453.0 432.1L455.0 431.8L457.0 431.5L459.0 431.2L461.0 430.9L463.0 430.7L465.0 430.4L467.0 430.1L469.0 429.9L471.0 429.6L473.0 429.4L475.0 429.1L477.0 428.9L479.0 428.6L481.0 428.4L483.0 428.2L485.0 427.9L487.0 427.7L489.0 427.5L491.0 427.3L493.0 427.0L495.0 426.8L497.0 426.6L499.0 426.4L501.0 426.2L503.0 425.9L505.0 425.7L507.0 425.5L509.0 425.3L511.0 425.1L513.0 424.9L515.0 424.7L517.0 424.5L519.0 424.3L521.0 424.1L523.0 423.9L525.0 423.7L527.0 423.5L529.0 423.3L531.0 423.1L533.0 422.9L535.0 422.7L537.0 422.6L539.0 422.4L541.0 422.2L543.0 422.0L545.0 421.8L547.0 421.6L549.0 421.4L551.0 421.2L553.0 421.1L555.0 420.9L557.0 420.7L559.0 420.5L561.0 420.3L563.0 420.1L565.0 420.0L567.0 419.8L569.0 419.6L571.0 419.4L573.0 419.2L575.0 419.1L577.0 418.9L579.0 418.7L581.0 418.5L583.0 418.4L585.0 418.2L587.0 418.0L589.0 417.8L591.0 417.7L593.0 417.5L595.0 417.3L597.0 417.1L599.0 417.0L601.0 416.8L603.0 416.6L605.0 416.5L607.0 416.3L609.0 416.1L611.0 416.0L613.0 415.8L615.0 415.7L617.0 415.5L619.0 415.3L621.0 415.2L623.0 415.0L625.0 414.9L627.0 414.7L629.0 414.6L631.0 414.4L633.0 414.3L635.0 414.1L637.0 414.0L639.0 413.8L641.0 413.7L643.0 413.5L645.0 413.4L647.0 413.3L649.0 413.1L651.0 413.0L653.0 412.9L655.0 412.7L657.0 412.6L659.0 412.5L661.0 412.3L663.0 412.2L665.0 412.1L667.0 412.0L669.0 411.9L671.0 411.7L673.0 411.6L675.0 411.5L677.0 411.4L679.0 411.3L681.0 411.2L683.0 411.1L685.0 410.9L687.0 410.8L689.0 410.7L691.0 410.6L693.0 410.5L695.0 410.4L697.0 410.3L699.0 410.2L701.0 410.1L703.0 410.0L705.0 409.9L707.0 409.8L709.0 409.7L711.0 409.6L713.0 409.6L715.0 409.5L717.0 409.4L719.0 409.3L721.0 409.2L723.0 409.1L725.0 409.0L727.0 409.0L729.0 408.9L731.0 408.8L733.0 408.7L735.0 408.6L737.0 408.6L739.0 408.5L741.0 408.4L743.0 408.3L745.0 408.3L747.0 408.2L749.0 408.1L751.0 408.1L753.0 408.0L755.0 407.9L757.0 407.9L759.0 407.8L761.0 407.7L763.0 407.7L765.0 407.6L767.0 407.6L769.0 407.5L771.0 407.4L773.0 407.4L775.0 407.3L777.0 407.3L779.0 407.2L781.0 407.2L783.0 407.1L785.0 407.1L787.0 407.0L789.0 407.0L791.0 406.9L793.0 406.9L795.0 406.9L797.0 406.8L799.0 406.8L801.0 406.7L803.0 406.7L805.0 406.7L807.0 406.6L809.0 406.6L811.0 406.5L813.0 406.5L815.0 406.5L817.0 406.5L819.0 406.4L821.0 406.4L823.0 406.4L825.0 406.3L827.0 406.3L829.0 406.3L831.0 406.3L833.0 406.2L835.0 406.2L837.0 406.2L839.0 406.2L841.0 406.1L843.0 406.1L845.0 406.1L847.0 406.1L849.0 406.1L851.0 406.0L853.0 406.0L855.0 406.0L857.0 406.0L859.0 406.0L861.0 406.0L863.0 405.9L865.0 405.9L867.0 405.9L869.0 405.9L871.0 405.9L873.0 405.9L875.0 405.9L877.0 405.9L879.0 405.9L881.0 405.8L883.0 405.8L885.0 405.8L887.0 405.8L889.0 405.8L891.0 405.8L893.0 405.8L895.0 405.8L897.0 405.8L899.0 405.8L901.0 405.8L903.0 405.8L905.0 405.8L907.0 405.8L909.0 405.7L911.0 405.7L913.0 405.7L915.0 405.7L917.0 405.7L919.0 405.7L921.0 405.7L923.0 405.7L925.0 405.7L927.0 405.7L929.0 405.7L931.0 405.7L933.0 405.7L935.0 405.7L937.0 405.7L939.0 405.7L941.0 405.7L943.0 405.7L945.0 405.7L947.0 405.7L949.0 405.7L951.0 405.7L953.0 405.7L955.0 405.7L957.0 405.7L959.0 405.7L961.0 405.7L963.0 405.7L965.0 405.7L967.0 405.7L969.0 405.7L971.0 405.7L973.0 405.7L975.0 405.7L977.0 405.7L979.0 405.7L981.0 405.7L983.0 405.7L985.0 405.7L987.0 405.7L989.0 405.7" fill="none" stroke="#000" stroke-width="10" stroke-linecap="round" stroke-linejoin="round"/>
<path d="M132.0 766.0L160.0 777.0L200.0 789.0L240.0 799.0L300.0 813.0L360.0 824.0L420.0 830.0L480.0 834.0L480.0 850.0L420.0 852.0L380.0 848.0L300.0 835.0L269.5 832.2L227.5 820.1L194.8 808.0L157.4 794.9L129.3 772.4Z" fill="#000"/>
<path d="M131.6 769.4L133.1 769.9L134.5 770.5L135.9 771.2L137.4 771.9L138.8 772.7L140.3 773.5L141.7 774.3L143.2 775.1L144.6 775.9L146.1 776.8L147.5 777.6L148.9 778.4L150.4 779.3L151.8 780.1L153.3 781.0L154.7 781.8L156.2 782.6L157.6 783.4L159.0 784.2L160.5 785.0L161.9 785.8L163.4 786.6L164.8 787.4L166.3 788.1L167.7 788.9L169.1 789.6L170.6 790.4L172.0 791.1L173.5 791.8L174.9 792.5L176.4 793.2L177.8 793.9L179.3 794.6L180.7 795.2L182.1 795.9L183.6 796.5L185.0 797.1L186.5 797.8L187.9 798.4L189.4 799.0L190.8 799.6L192.2 800.2L193.7 800.7L195.1 801.3L196.6 801.9L198.0 802.4L199.5 802.9L200.9 803.5L202.3 804.0L203.8 804.5L205.2 805.0L206.7 805.5L208.1 806.0L209.6 806.5L211.0 806.9L212.5 807.4L219.7 809.6L226.9 811.7L234.1 813.6L241.3 815.3L248.5 816.9L255.8 818.5L263.0 819.9L270.2 821.2L277.4 822.4L284.6 823.6L291.8 824.6L299.1 825.6L306.3 826.6L313.5 827.5L320.7 828.3L327.9 829.1L335.2 829.9L342.4 830.6L349.6 831.2L356.8 831.9L364.0 832.5L371.2 833.1L378.5 833.6L385.7 834.1L392.9 834.6L400.1 835.1L407.3 835.5L414.5 836.0L421.8 836.4L429.0 836.8L436.2 837.1L443.4 837.5L450.6 837.8L457.8 838.2L465.1 838.5L472.3 838.8L479.5 839.1L486.7 839.4L493.9 839.6L501.2 839.9L508.4 840.2L515.6 840.4L522.8 840.6L530.0 840.9L537.2 841.1L544.5 841.3L551.7 841.5L558.9 841.7L566.1 841.9L573.3 842.1L580.5 842.3L587.8 842.4L595.0 842.6L602.2 842.8L609.4 842.9L616.6 843.1L623.9 843.2L631.1 843.4L638.3 843.5L645.5 843.7L652.7 843.8L659.9 843.9L667.2 844.1L674.4 844.2L681.6 844.3L688.8 844.4L696.0 844.5L703.2 844.6L710.5 844.7L717.7 844.9L724.9 845.0L732.1 845.1L739.3 845.2L746.5 845.2L753.8 845.3L761.0 845.4L768.2 845.5L775.4 845.6L782.6 845.7L789.9 845.8L797.1 845.9L804.3 845.9L811.5 846.0L818.7 846.1L825.9 846.2L833.2 846.2L840.4 846.3L847.6 846.4L854.8 846.4L862.0 846.5L869.2 846.6L876.5 846.6L883.7 846.7L890.9 846.8L898.1 846.8L905.3 846.9L912.6 846.9L919.8 847.0L927.0 847.1L934.2 847.1L941.4 847.2L948.6 847.2L955.9 847.3L963.1 847.3L970.3 847.4L977.5 847.4L984.7 847.5" fill="none" stroke="#000" stroke-width="10" stroke-linecap="round" stroke-linejoin="round"/>
<path d="M131.6 769.4L133.1 769.9L134.5 770.5L135.9 771.3L137.4 772.1L138.8 772.9L140.3 773.7L141.7 774.6L143.2 775.5L144.6 776.3L146.1 777.2L147.5 778.1L148.9 779.0L150.4 779.9L151.8 780.8L153.3 781.7L154.7 782.6L156.2 783.5L157.6 784.3L159.0 785.2L160.5 786.1L161.9 786.9L163.4 787.7L164.8 788.6L166.3 789.4L167.7 790.2L169.1 791.0L170.6 791.7L172.0 792.5L173.5 793.3L174.9 794.0L176.4 794.8L177.8 795.5L179.3 796.2L180.7 796.9L182.1 797.6L183.6 798.3L185.0 799.0L186.5 799.6L187.9 800.3L189.4 800.9L190.8 801.5L192.2 802.2L193.7 802.8L195.1 803.4L196.6 804.0L198.0 804.5L199.5 805.1L200.9 805.7L202.3 806.2L203.8 806.8L205.2 807.3L206.7 807.8L208.1 808.4L209.6 808.9L211.0 809.4L212.5 809.9L219.7 812.2L226.9 814.4L234.1 816.4L241.3 818.3L248.5 820.0L255.8 821.7L263.0 823.2L270.2 824.6L277.4 825.9L284.6 827.1L291.8 828.2L299.1 829.3L306.3 830.3L313.5 831.3L320.7 832.2L327.9 833.0L335.2 833.8L342.4 834.6L349.6 835.3L356.8 836.0L364.0 836.6L371.2 837.2L378.5 837.8L385.7 838.3L392.9 838.9L400.1 839.4L407.3 839.8L414.5 840.3L421.8 840.7L429.0 841.2L436.2 841.6L443.4 841.9L450.6 842.3L457.8 842.7L465.1 843.0L472.3 843.3L479.5 843.6L486.7 843.9L493.9 844.2L501.2 844.5L508.4 844.8L515.6 845.0L522.8 845.3L530.0 845.5L537.2 845.8L544.5 846.0L551.7 846.2L558.9 846.4L566.1 846.6L573.3 846.8L580.5 847.0L587.8 847.2L595.0 847.4L602.2 847.6L609.4 847.7L616.6 847.9L623.9 848.0L631.1 848.2L638.3 848.4L645.5 848.5L652.7 848.6L659.9 848.8L667.2 848.9L674.4 849.0L681.6 849.2L688.8 849.3L696.0 849.4L703.2 849.5L710.5 849.7L717.7 849.8L724.9 849.9L732.1 850.0L739.3 850.1L746.5 850.2L753.8 850.3L761.0 850.4L768.2 850.5L775.4 850.6L782.6 850.7L789.9 850.8L797.1 850.8L804.3 850.9L811.5 851.0L818.7 851.1L825.9 851.2L833.2 851.2L840.4 851.3L847.6 851.4L854.8 851.5L862.0 851.5L869.2 851.6L876.5 851.7L883.7 851.7L890.9 851.8L898.1 851.9L905.3 851.9L912.6 852.0L919.8 852.1L927.0 852.1L934.2 852.2L941.4 852.2L948.6 852.3L955.9 852.3L963.1 852.4L970.3 852.5L977.5 852.5L984.7 852.6" fill="none" stroke="#000" stroke-width="10" stroke-linecap="round" stroke-linejoin="round"/>
<path d="M1184.4 664.4L1187.9 659.6L1191.3 654.8L1194.8 650.0L1198.3 645.2L1201.7 640.4L1205.2 635.6L1208.7 630.8L1212.1 626.0L1215.6 621.2L1219.1 616.4L1222.5 611.6L1226.0 606.8L1229.5 602.0L1232.9 597.2L1236.4 592.4L1239.9 587.6L1243.3 582.8L1246.8 581.4L1250.3 580.1L1253.7 579.0L1257.2 577.8L1260.7 576.7L1264.1 575.7L1267.6 574.7L1271.1 573.7L1274.5 572.8L1278.0 571.9L1281.4 571.0L1284.9 570.1L1288.4 569.3L1291.8 568.5L1295.3 567.7L1298.8 566.9L1302.2 566.1L1305.7 565.4L1309.2 564.7L1312.6 564.0L1316.1 563.3L1319.6 562.6L1323.0 562.0L1340.4 558.9L1357.7 556.1L1375.0 553.6L1392.4 551.3L1409.7 549.1L1427.0 547.2L1444.4 545.4L1461.7 543.7L1479.0 542.1L1496.3 540.7L1513.7 539.3L1531.0 538.0L1548.3 536.8L1565.7 535.7L1583.0 534.6L1600.3 533.6L1617.7 532.6L1635.0 531.7L1652.3 530.8L1669.6 530.0L1687.0 529.2L1704.3 528.5L1721.6 527.7L1739.0 527.0L1756.3 526.4L1773.6 525.8L1791.0 525.2L1808.3 524.6L1825.6 524.0L1842.9 523.5L1860.3 523.0L1877.6 522.5L1894.9 522.0L1912.3 521.5L1929.6 521.1L1946.9 520.6L1964.3 520.2L1981.6 519.8L1998.9 519.4L2016.2 519.1L2033.6 518.7L2050.9 518.3" fill="none" stroke="#000" stroke-width="9" stroke-linecap="round" stroke-linejoin="round"/>
<path d="M1184.5 907.5L1300 903.5L1560 900.4L2050.9 898.4" fill="none" stroke="#000" stroke-width="8" stroke-linecap="round" stroke-linejoin="round"/>
<path d="M163.0 758.5L176.5 781.5H149.5Z" fill="none" stroke="#000" stroke-width="3.3" stroke-linejoin="miter"/>
<path d="M179.8 766.5L193.3 789.5H166.3Z" fill="none" stroke="#000" stroke-width="3.3" stroke-linejoin="miter"/>
<path d="M205.0 772.5L218.5 795.5H191.5Z" fill="none" stroke="#000" stroke-width="3.3" stroke-linejoin="miter"/>
<path d="M209.7 775.8L223.2 798.8H196.2Z" fill="none" stroke="#000" stroke-width="3.3" stroke-linejoin="miter"/>
<path d="M219.5 778.6L233.0 801.6H206.0Z" fill="none" stroke="#000" stroke-width="3.3" stroke-linejoin="miter"/>
<path d="M232.6 782.3L246.1 805.3H219.1Z" fill="none" stroke="#000" stroke-width="3.3" stroke-linejoin="miter"/>
<path d="M238.2 786.1L251.7 809.1H224.7Z" fill="none" stroke="#000" stroke-width="3.3" stroke-linejoin="miter"/>
<path d="M256.4 791.7L269.9 814.7H242.9Z" fill="none" stroke="#000" stroke-width="3.3" stroke-linejoin="miter"/>
<path d="M271.4 797.3L284.9 820.3H257.9Z" fill="none" stroke="#000" stroke-width="3.3" stroke-linejoin="miter"/>
<path d="M286.4 801.0L299.9 824.0H272.9Z" fill="none" stroke="#000" stroke-width="3.3" stroke-linejoin="miter"/>
<path d="M300.4 805.5L313.9 828.5H286.9Z" fill="none" stroke="#000" stroke-width="3.3" stroke-linejoin="miter"/>
<path d="M316.0 808.0L329.5 831.0H302.5Z" fill="none" stroke="#000" stroke-width="3.3" stroke-linejoin="miter"/>
<path d="M338.8 813.9L352.3 836.9H325.3Z" fill="none" stroke="#000" stroke-width="3.3" stroke-linejoin="miter"/>
<path d="M352.5 822.3L366.0 845.3H339.0Z" fill="none" stroke="#000" stroke-width="3.3" stroke-linejoin="miter"/>
<path d="M371.3 818.4L384.8 841.4H357.8Z" fill="none" stroke="#000" stroke-width="3.3" stroke-linejoin="miter"/>
<path d="M384.3 823.0L397.8 846.0H370.8Z" fill="none" stroke="#000" stroke-width="3.3" stroke-linejoin="miter"/>
<path d="M395.4 824.3L408.9 847.3H381.9Z" fill="none" stroke="#000" stroke-width="3.3" stroke-linejoin="miter"/>
<path d="M405.8 826.2L419.3 849.2H392.3Z" fill="none" stroke="#000" stroke-width="3.3" stroke-linejoin="miter"/>
<path d="M433.1 830.8L446.6 853.8H419.6Z" fill="none" stroke="#000" stroke-width="3.3" stroke-linejoin="miter"/>
<path d="M578.7 863.5L592.2 886.5H565.2Z" fill="none" stroke="#000" stroke-width="3.3" stroke-linejoin="miter"/>
<path d="M595.9 876.7L609.4 899.7H582.4Z" fill="none" stroke="#000" stroke-width="3.3" stroke-linejoin="miter"/>
<path d="M647.5 870.6L661.0 893.6H634.0Z" fill="none" stroke="#000" stroke-width="3.3" stroke-linejoin="miter"/>
<path d="M680.9 875.7L694.4 898.7H667.4Z" fill="none" stroke="#000" stroke-width="3.3" stroke-linejoin="miter"/>
<path d="M670.7 897.9L684.2 920.9H657.2Z" fill="none" stroke="#000" stroke-width="3.3" stroke-linejoin="miter"/>
<path d="M723.4 884.8L736.9 907.8H709.9Z" fill="none" stroke="#000" stroke-width="3.3" stroke-linejoin="miter"/>
<path d="M772.0 894.3L785.5 917.3H758.5Z" fill="none" stroke="#000" stroke-width="3.3" stroke-linejoin="miter"/>
<path d="M811.4 905.0L824.9 928.0H797.9Z" fill="none" stroke="#000" stroke-width="3.3" stroke-linejoin="miter"/>
<path d="M525.0 857.5L538.5 880.5H511.5Z" fill="none" stroke="#000" stroke-width="3.3" stroke-linejoin="miter"/>
<path d="M545.3 859.5L558.8 882.5H531.8Z" fill="none" stroke="#000" stroke-width="3.3" stroke-linejoin="miter"/>
<path d="M490.6 855.5L504.1 878.5H477.1Z" fill="none" stroke="#000" stroke-width="3.3" stroke-linejoin="miter"/>
<path d="M460.2 851.4L473.7 874.4H446.7Z" fill="none" stroke="#000" stroke-width="3.3" stroke-linejoin="miter"/>
<path d="M465.7 851.5L479.2 874.5H452.2Z" fill="none" stroke="#000" stroke-width="3.3" stroke-linejoin="miter"/>
<path d="M487.8 851.5L501.3 874.5H474.3Z" fill="none" stroke="#000" stroke-width="3.3" stroke-linejoin="miter"/>
<path d="M515.1 852.5L528.6 875.5H501.6Z" fill="none" stroke="#000" stroke-width="3.3" stroke-linejoin="miter"/>
<path d="M545.0 860.5L558.5 883.5H531.5Z" fill="none" stroke="#000" stroke-width="3.3" stroke-linejoin="miter"/>
<path d="M440.0 846.5L453.5 869.5H426.5Z" fill="none" stroke="#000" stroke-width="3.3" stroke-linejoin="miter"/>
<path d="M420.0 843.5L433.5 866.5H406.5Z" fill="none" stroke="#000" stroke-width="3.3" stroke-linejoin="miter"/>
<path d="M400.0 840.5L413.5 863.5H386.5Z" fill="none" stroke="#000" stroke-width="3.3" stroke-linejoin="miter"/>
<path d="M380.0 838.5L393.5 861.5H366.5Z" fill="none" stroke="#000" stroke-width="3.3" stroke-linejoin="miter"/>
<path d="M360.0 834.5L373.5 857.5H346.5Z" fill="none" stroke="#000" stroke-width="3.3" stroke-linejoin="miter"/>
<path d="M340.0 831.5L353.5 854.5H326.5Z" fill="none" stroke="#000" stroke-width="3.3" stroke-linejoin="miter"/>
<circle cx="256.9" cy="827.1" r="14.8" fill="none" stroke="#000" stroke-width="3.3"/>
<circle cx="325.1" cy="848.1" r="14.8" fill="none" stroke="#000" stroke-width="3.3"/>
<circle cx="364.2" cy="854.7" r="14.8" fill="none" stroke="#000" stroke-width="3.3"/>
<circle cx="381.1" cy="867.7" r="14.8" fill="none" stroke="#000" stroke-width="3.3"/>
<circle cx="424.0" cy="872.9" r="14.8" fill="none" stroke="#000" stroke-width="3.3"/>
<circle cx="480.0" cy="893.7" r="14.8" fill="none" stroke="#000" stroke-width="3.3"/>
<circle cx="528.1" cy="905.4" r="14.8" fill="none" stroke="#000" stroke-width="3.3"/>
<circle cx="552.8" cy="911.9" r="14.8" fill="none" stroke="#000" stroke-width="3.3"/>
<circle cx="420.1" cy="863.8" r="14.8" fill="none" stroke="#000" stroke-width="3.3"/>
<circle cx="373.3" cy="856.0" r="14.8" fill="none" stroke="#000" stroke-width="3.3"/>
<circle cx="588.8" cy="916.5" r="14.8" fill="none" stroke="#000" stroke-width="3.3"/>
<circle cx="618.1" cy="919.5" r="14.8" fill="none" stroke="#000" stroke-width="3.3"/>
<circle cx="643.4" cy="921.6" r="14.8" fill="none" stroke="#000" stroke-width="3.3"/>
<circle cx="622.2" cy="887.2" r="14.8" fill="none" stroke="#000" stroke-width="3.3"/>
<circle cx="597.9" cy="881.1" r="14.8" fill="none" stroke="#000" stroke-width="3.3"/>
<circle cx="569.5" cy="875.0" r="14.8" fill="none" stroke="#000" stroke-width="3.3"/>
<circle cx="640.4" cy="877.0" r="14.8" fill="none" stroke="#000" stroke-width="3.3"/>
<circle cx="666.7" cy="889.2" r="14.8" fill="none" stroke="#000" stroke-width="3.3"/>
<circle cx="724.4" cy="895.3" r="14.8" fill="none" stroke="#000" stroke-width="3.3"/>
<circle cx="739.6" cy="884.1" r="14.8" fill="none" stroke="#000" stroke-width="3.3"/>
<circle cx="794.2" cy="909.4" r="14.8" fill="none" stroke="#000" stroke-width="3.3"/>
<circle cx="814.5" cy="887.2" r="14.8" fill="none" stroke="#000" stroke-width="3.3"/>
<circle cx="537.2" cy="871.0" r="14.8" fill="none" stroke="#000" stroke-width="3.3"/>
<circle cx="174.2" cy="778.0" r="14.8" fill="none" stroke="#000" stroke-width="3.3"/>
<path d="M1190.2 648.4L1203.7 625.4H1176.7Z" fill="none" stroke="#000" stroke-width="3.3" stroke-linejoin="miter"/>
<path d="M1197.0 631.2L1210.5 608.2H1183.5Z" fill="none" stroke="#000" stroke-width="3.3" stroke-linejoin="miter"/>
<path d="M1205.7 615.5L1219.2 592.5H1192.2Z" fill="none" stroke="#000" stroke-width="3.3" stroke-linejoin="miter"/>
<path d="M1223.0 599.7L1236.5 576.7H1209.5Z" fill="none" stroke="#000" stroke-width="3.3" stroke-linejoin="miter"/>
<path d="M1247.1 582.4L1260.6 559.4H1233.6Z" fill="none" stroke="#000" stroke-width="3.3" stroke-linejoin="miter"/>
<path d="M1264.5 568.3L1278.0 545.3H1251.0Z" fill="none" stroke="#000" stroke-width="3.3" stroke-linejoin="miter"/>
<path d="M1304.9 559.1L1318.4 536.1H1291.4Z" fill="none" stroke="#000" stroke-width="3.3" stroke-linejoin="miter"/>
<path d="M1463.0 550.1L1476.5 527.1H1449.5Z" fill="none" stroke="#000" stroke-width="3.3" stroke-linejoin="miter"/>
<path d="M2000.4 544.5L2013.9 521.5H1986.9Z" fill="none" stroke="#000" stroke-width="3.3" stroke-linejoin="miter"/>
<circle cx="1201.8" cy="634.9" r="14.8" fill="none" stroke="#000" stroke-width="3.3"/>
<circle cx="1224.0" cy="619.5" r="14.8" fill="none" stroke="#000" stroke-width="3.3"/>
<circle cx="1251.9" cy="594.5" r="14.8" fill="none" stroke="#000" stroke-width="3.3"/>
<circle cx="1285.7" cy="588.7" r="14.8" fill="none" stroke="#000" stroke-width="3.3"/>
<circle cx="1313.6" cy="583.9" r="14.8" fill="none" stroke="#000" stroke-width="3.3"/>
<circle cx="1375.3" cy="566.5" r="14.8" fill="none" stroke="#000" stroke-width="3.3"/>
<circle cx="1454.3" cy="556.9" r="14.8" fill="none" stroke="#000" stroke-width="3.3"/>
<circle cx="1544.0" cy="552.0" r="14.8" fill="none" stroke="#000" stroke-width="3.3"/>
<circle cx="1200.8" cy="909.0" r="14.8" fill="none" stroke="#000" stroke-width="3.3"/>
<circle cx="1224.0" cy="907.1" r="14.8" fill="none" stroke="#000" stroke-width="3.3"/>
<circle cx="1256.7" cy="902.3" r="14.8" fill="none" stroke="#000" stroke-width="3.3"/>
<circle cx="1285.7" cy="899.4" r="14.8" fill="none" stroke="#000" stroke-width="3.3"/>
<circle cx="1313.6" cy="894.6" r="14.8" fill="none" stroke="#000" stroke-width="3.3"/>
<circle cx="1375.3" cy="893.6" r="14.8" fill="none" stroke="#000" stroke-width="3.3"/>
<circle cx="1454.3" cy="885.9" r="14.8" fill="none" stroke="#000" stroke-width="3.3"/>
<circle cx="1544.0" cy="865.7" r="14.8" fill="none" stroke="#000" stroke-width="3.3"/>
<path d="M1190.2 924.8L1203.7 901.8H1176.7Z" fill="none" stroke="#000" stroke-width="3.3" stroke-linejoin="miter"/>
<path d="M1224.0 915.8L1237.5 892.8H1210.5Z" fill="none" stroke="#000" stroke-width="3.3" stroke-linejoin="miter"/>
<path d="M1264.5 906.0L1278.0 883.0H1251.0Z" fill="none" stroke="#000" stroke-width="3.3" stroke-linejoin="miter"/>
<path d="M1305.0 897.1L1318.5 874.1H1291.5Z" fill="none" stroke="#000" stroke-width="3.3" stroke-linejoin="miter"/>
<path d="M1464.0 885.4L1477.5 862.4H1450.5Z" fill="none" stroke="#000" stroke-width="3.3" stroke-linejoin="miter"/>
<path d="M2000.4 870.0L2013.9 847.0H1986.9Z" fill="none" stroke="#000" stroke-width="3.3" stroke-linejoin="miter"/>
<circle cx="324.2" cy="275.0" r="14.8" fill="none" stroke="#000" stroke-width="3.3"/>
<circle cx="292.2" cy="329.2" r="14.8" fill="none" stroke="#000" stroke-width="3.3"/>
<circle cx="257.7" cy="361.2" r="14.8" fill="none" stroke="#000" stroke-width="3.3"/>
<circle cx="247.9" cy="373.5" r="14.8" fill="none" stroke="#000" stroke-width="3.3"/>
<circle cx="233.1" cy="395.7" r="14.8" fill="none" stroke="#000" stroke-width="3.3"/>
<circle cx="225.7" cy="408.0" r="14.8" fill="none" stroke="#000" stroke-width="3.3"/>
<circle cx="380.9" cy="238.0" r="14.8" fill="none" stroke="#000" stroke-width="3.3"/>
<circle cx="422.8" cy="220.7" r="14.8" fill="none" stroke="#000" stroke-width="3.3"/>
<circle cx="479.5" cy="213.4" r="14.8" fill="none" stroke="#000" stroke-width="3.3"/>
<circle cx="501.7" cy="187.7" r="14.8" fill="none" stroke="#000" stroke-width="3.3"/>
<circle cx="528.8" cy="193.6" r="14.8" fill="none" stroke="#000" stroke-width="3.3"/>
<circle cx="553.4" cy="188.7" r="14.8" fill="none" stroke="#000" stroke-width="3.3"/>
<circle cx="587.9" cy="173.9" r="14.8" fill="none" stroke="#000" stroke-width="3.3"/>
<circle cx="617.5" cy="161.6" r="14.8" fill="none" stroke="#000" stroke-width="3.3"/>
<circle cx="644.6" cy="172.9" r="14.8" fill="none" stroke="#000" stroke-width="3.3"/>
<circle cx="226.5" cy="408.0" r="14.8" fill="none" stroke="#000" stroke-width="3.3"/>
<circle cx="234.7" cy="390.3" r="14.8" fill="none" stroke="#000" stroke-width="3.3"/>
<circle cx="176.0" cy="488.4" r="14.8" fill="none" stroke="#000" stroke-width="3.3"/>
<circle cx="191.0" cy="464.1" r="14.8" fill="none" stroke="#000" stroke-width="3.3"/>
<circle cx="160.0" cy="510.8" r="14.8" fill="none" stroke="#000" stroke-width="3.3"/>
<circle cx="137.0" cy="572.0" r="14.8" fill="none" stroke="#000" stroke-width="3.3"/>
<circle cx="134.0" cy="618.0" r="14.8" fill="none" stroke="#000" stroke-width="3.3"/>
<circle cx="605.2" cy="324.2" r="14.8" fill="none" stroke="#000" stroke-width="3.3"/>
<circle cx="639.7" cy="321.8" r="14.8" fill="none" stroke="#000" stroke-width="3.3"/>
<circle cx="738.2" cy="316.9" r="14.8" fill="none" stroke="#000" stroke-width="3.3"/>
<circle cx="814.6" cy="316.9" r="14.8" fill="none" stroke="#000" stroke-width="3.3"/>
<circle cx="565.7" cy="331.6" r="14.8" fill="none" stroke="#000" stroke-width="3.3"/>
<circle cx="541.1" cy="336.6" r="14.8" fill="none" stroke="#000" stroke-width="3.3"/>
<circle cx="514.0" cy="341.5" r="14.8" fill="none" stroke="#000" stroke-width="3.3"/>
<circle cx="489.4" cy="348.9" r="14.8" fill="none" stroke="#000" stroke-width="3.3"/>
<circle cx="464.7" cy="353.8" r="14.8" fill="none" stroke="#000" stroke-width="3.3"/>
<circle cx="445.0" cy="358.7" r="14.8" fill="none" stroke="#000" stroke-width="3.3"/>
<circle cx="420.4" cy="366.1" r="14.8" fill="none" stroke="#000" stroke-width="3.3"/>
<circle cx="390.8" cy="378.5" r="14.8" fill="none" stroke="#000" stroke-width="3.3"/>
<circle cx="361.2" cy="378.5" r="14.8" fill="none" stroke="#000" stroke-width="3.3"/>
<circle cx="336.6" cy="390.8" r="14.8" fill="none" stroke="#000" stroke-width="3.3"/>
<circle cx="324.2" cy="395.7" r="14.8" fill="none" stroke="#000" stroke-width="3.3"/>
<circle cx="302.1" cy="405.6" r="14.8" fill="none" stroke="#000" stroke-width="3.3"/>
<circle cx="310.4" cy="401.0" r="14.8" fill="none" stroke="#000" stroke-width="3.3"/>
<circle cx="328.7" cy="390.8" r="14.8" fill="none" stroke="#000" stroke-width="3.3"/>
<circle cx="344.0" cy="382.6" r="14.8" fill="none" stroke="#000" stroke-width="3.3"/>
<circle cx="355.2" cy="380.6" r="14.8" fill="none" stroke="#000" stroke-width="3.3"/>
<circle cx="365.4" cy="374.5" r="14.8" fill="none" stroke="#000" stroke-width="3.3"/>
<circle cx="403.0" cy="370.4" r="14.8" fill="none" stroke="#000" stroke-width="3.3"/>
<circle cx="262.0" cy="440.0" r="14.8" fill="none" stroke="#000" stroke-width="3.3"/>
<circle cx="248.0" cy="452.0" r="14.8" fill="none" stroke="#000" stroke-width="3.3"/>
<circle cx="236.0" cy="462.0" r="14.8" fill="none" stroke="#000" stroke-width="3.3"/>
<circle cx="222.0" cy="470.0" r="14.8" fill="none" stroke="#000" stroke-width="3.3"/>
<circle cx="207.0" cy="480.0" r="14.8" fill="none" stroke="#000" stroke-width="3.3"/>
<circle cx="200.0" cy="472.0" r="14.8" fill="none" stroke="#000" stroke-width="3.3"/>
<circle cx="214.0" cy="464.0" r="14.8" fill="none" stroke="#000" stroke-width="3.3"/>
<circle cx="228.0" cy="456.0" r="14.8" fill="none" stroke="#000" stroke-width="3.3"/>
<circle cx="190.0" cy="488.0" r="14.8" fill="none" stroke="#000" stroke-width="3.3"/>
<circle cx="245.0" cy="470.0" r="14.8" fill="none" stroke="#000" stroke-width="3.3"/>
<path d="M198.0 470.5L211.5 493.5H184.5Z" fill="none" stroke="#000" stroke-width="3.3" stroke-linejoin="miter"/>
<path d="M212.0 463.5L225.5 486.5H198.5Z" fill="none" stroke="#000" stroke-width="3.3" stroke-linejoin="miter"/>
<path d="M226.0 456.5L239.5 479.5H212.5Z" fill="none" stroke="#000" stroke-width="3.3" stroke-linejoin="miter"/>
<path d="M240.0 450.5L253.5 473.5H226.5Z" fill="none" stroke="#000" stroke-width="3.3" stroke-linejoin="miter"/>
<path d="M205.0 480.5L218.5 503.5H191.5Z" fill="none" stroke="#000" stroke-width="3.3" stroke-linejoin="miter"/>
<path d="M232.0 466.5L245.5 489.5H218.5Z" fill="none" stroke="#000" stroke-width="3.3" stroke-linejoin="miter"/>
<path d="M669.2 320.1L682.7 343.1H655.7Z" fill="none" stroke="#000" stroke-width="3.3" stroke-linejoin="miter"/>
<path d="M745.6 320.1L759.1 343.1H732.1Z" fill="none" stroke="#000" stroke-width="3.3" stroke-linejoin="miter"/>
<path d="M785.1 317.7L798.6 340.7H771.6Z" fill="none" stroke="#000" stroke-width="3.3" stroke-linejoin="miter"/>
<path d="M831.9 317.7L845.4 340.7H818.4Z" fill="none" stroke="#000" stroke-width="3.3" stroke-linejoin="miter"/>
<path d="M595.3 330.0L608.8 353.0H581.8Z" fill="none" stroke="#000" stroke-width="3.3" stroke-linejoin="miter"/>
<path d="M563.3 334.9L576.8 357.9H549.8Z" fill="none" stroke="#000" stroke-width="3.3" stroke-linejoin="miter"/>
<path d="M538.6 339.9L552.1 362.9H525.1Z" fill="none" stroke="#000" stroke-width="3.3" stroke-linejoin="miter"/>
<path d="M516.5 344.8L530.0 367.8H503.0Z" fill="none" stroke="#000" stroke-width="3.3" stroke-linejoin="miter"/>
<path d="M489.4 349.7L502.9 372.7H475.9Z" fill="none" stroke="#000" stroke-width="3.3" stroke-linejoin="miter"/>
<path d="M464.7 354.6L478.2 377.6H451.2Z" fill="none" stroke="#000" stroke-width="3.3" stroke-linejoin="miter"/>
<path d="M435.1 362.0L448.6 385.0H421.6Z" fill="none" stroke="#000" stroke-width="3.3" stroke-linejoin="miter"/>
<path d="M400.6 371.9L414.1 394.9H387.1Z" fill="none" stroke="#000" stroke-width="3.3" stroke-linejoin="miter"/>
<path d="M376.0 384.2L389.5 407.2H362.5Z" fill="none" stroke="#000" stroke-width="3.3" stroke-linejoin="miter"/>
<path d="M346.4 394.1L359.9 417.1H332.9Z" fill="none" stroke="#000" stroke-width="3.3" stroke-linejoin="miter"/>
<path d="M316.9 408.9L330.4 431.9H303.4Z" fill="none" stroke="#000" stroke-width="3.3" stroke-linejoin="miter"/>
<path d="M284.8 401.5L298.3 424.5H271.3Z" fill="none" stroke="#000" stroke-width="3.3" stroke-linejoin="miter"/>
<path d="M267.6 416.2L281.1 439.2H254.1Z" fill="none" stroke="#000" stroke-width="3.3" stroke-linejoin="miter"/>
<path d="M233.1 433.5L246.6 456.5H219.6Z" fill="none" stroke="#000" stroke-width="3.3" stroke-linejoin="miter"/>
<path d="M218.3 448.3L231.8 471.3H204.8Z" fill="none" stroke="#000" stroke-width="3.3" stroke-linejoin="miter"/>
<path d="M219.0 446.5L232.5 469.5H205.5Z" fill="none" stroke="#000" stroke-width="3.3" stroke-linejoin="miter"/>
<path d="M232.1 437.5L245.6 460.5H218.6Z" fill="none" stroke="#000" stroke-width="3.3" stroke-linejoin="miter"/>
<path d="M258.3 421.5L271.8 444.5H244.8Z" fill="none" stroke="#000" stroke-width="3.3" stroke-linejoin="miter"/>
<path d="M271.4 414.2L284.9 437.2H257.9Z" fill="none" stroke="#000" stroke-width="3.3" stroke-linejoin="miter"/>
<path d="M284.5 400.2L298.0 423.2H271.0Z" fill="none" stroke="#000" stroke-width="3.3" stroke-linejoin="miter"/>
<path d="M123.0 571.5L136.5 594.5H109.5Z" fill="none" stroke="#000" stroke-width="3.3" stroke-linejoin="miter"/>
<path d="M127.0 578.5L140.5 601.5H113.5Z" fill="none" stroke="#000" stroke-width="3.3" stroke-linejoin="miter"/>
<path d="M300.0 413.5L313.5 436.5H286.5Z" fill="none" stroke="#000" stroke-width="3.3" stroke-linejoin="miter"/>
<path d="M312.0 406.5L325.5 429.5H298.5Z" fill="none" stroke="#000" stroke-width="3.3" stroke-linejoin="miter"/>
<path d="M330.0 398.5L343.5 421.5H316.5Z" fill="none" stroke="#000" stroke-width="3.3" stroke-linejoin="miter"/>
<path d="M300.0 416.5L313.5 439.5H286.5Z" fill="none" stroke="#000" stroke-width="3.3" stroke-linejoin="miter"/>
<path d="M310.0 410.8L323.5 433.8H296.5Z" fill="none" stroke="#000" stroke-width="3.3" stroke-linejoin="miter"/>
<path d="M321.0 404.7L334.5 427.7H307.5Z" fill="none" stroke="#000" stroke-width="3.3" stroke-linejoin="miter"/>
<path d="M332.0 398.9L345.5 421.9H318.5Z" fill="none" stroke="#000" stroke-width="3.3" stroke-linejoin="miter"/>
<path d="M343.0 393.4L356.5 416.4H329.5Z" fill="none" stroke="#000" stroke-width="3.3" stroke-linejoin="miter"/>
<path d="M354.0 388.2L367.5 411.2H340.5Z" fill="none" stroke="#000" stroke-width="3.3" stroke-linejoin="miter"/>
<path d="M366.0 382.8L379.5 405.8H352.5Z" fill="none" stroke="#000" stroke-width="3.3" stroke-linejoin="miter"/>
<path d="M377.0 378.2L390.5 401.2H363.5Z" fill="none" stroke="#000" stroke-width="3.3" stroke-linejoin="miter"/>
<path d="M389.0 373.4L402.5 396.4H375.5Z" fill="none" stroke="#000" stroke-width="3.3" stroke-linejoin="miter"/>
<path d="M401.0 369.1L414.5 392.1H387.5Z" fill="none" stroke="#000" stroke-width="3.3" stroke-linejoin="miter"/>
<path d="M413.0 365.0L426.5 388.0H399.5Z" fill="none" stroke="#000" stroke-width="3.3" stroke-linejoin="miter"/>
<path d="M425.0 361.3L438.5 384.3H411.5Z" fill="none" stroke="#000" stroke-width="3.3" stroke-linejoin="miter"/>
<path d="M437.0 357.8L450.5 380.8H423.5Z" fill="none" stroke="#000" stroke-width="3.3" stroke-linejoin="miter"/>
<path d="M449.0 354.5L462.5 377.5H435.5Z" fill="none" stroke="#000" stroke-width="3.3" stroke-linejoin="miter"/>
<path d="M461.0 354.5L474.5 377.5H447.5Z" fill="none" stroke="#000" stroke-width="3.3" stroke-linejoin="miter"/>
<path d="M474.0 351.5L487.5 374.5H460.5Z" fill="none" stroke="#000" stroke-width="3.3" stroke-linejoin="miter"/>
<path d="M487.0 348.6L500.5 371.6H473.5Z" fill="none" stroke="#000" stroke-width="3.3" stroke-linejoin="miter"/>
<path d="M500.0 346.0L513.5 369.0H486.5Z" fill="none" stroke="#000" stroke-width="3.3" stroke-linejoin="miter"/>
<path d="M513.0 343.5L526.5 366.5H499.5Z" fill="none" stroke="#000" stroke-width="3.3" stroke-linejoin="miter"/>
<path d="M527.0 340.9L540.5 363.9H513.5Z" fill="none" stroke="#000" stroke-width="3.3" stroke-linejoin="miter"/>
<path d="M541.0 338.5L554.5 361.5H527.5Z" fill="none" stroke="#000" stroke-width="3.3" stroke-linejoin="miter"/>
<path d="M555.0 336.2L568.5 359.2H541.5Z" fill="none" stroke="#000" stroke-width="3.3" stroke-linejoin="miter"/>
<path d="M569.0 334.1L582.5 357.1H555.5Z" fill="none" stroke="#000" stroke-width="3.3" stroke-linejoin="miter"/>
<path d="M584.0 331.8L597.5 354.8H570.5Z" fill="none" stroke="#000" stroke-width="3.3" stroke-linejoin="miter"/>
<circle cx="794.9" cy="388.3" r="14.8" fill="none" stroke="#000" stroke-width="3.3"/>
<circle cx="725.9" cy="388.3" r="14.8" fill="none" stroke="#000" stroke-width="3.3"/>
<circle cx="666.8" cy="390.8" r="14.8" fill="none" stroke="#000" stroke-width="3.3"/>
<circle cx="644.6" cy="390.8" r="14.8" fill="none" stroke="#000" stroke-width="3.3"/>
<circle cx="622.4" cy="390.8" r="14.8" fill="none" stroke="#000" stroke-width="3.3"/>
<circle cx="597.8" cy="394.7" r="14.8" fill="none" stroke="#000" stroke-width="3.3"/>
<circle cx="570.7" cy="395.7" r="14.8" fill="none" stroke="#000" stroke-width="3.3"/>
<circle cx="543.6" cy="401.6" r="14.8" fill="none" stroke="#000" stroke-width="3.3"/>
<circle cx="518.9" cy="405.6" r="14.8" fill="none" stroke="#000" stroke-width="3.3"/>
<circle cx="494.3" cy="408.0" r="14.8" fill="none" stroke="#000" stroke-width="3.3"/>
<circle cx="474.6" cy="408.0" r="14.8" fill="none" stroke="#000" stroke-width="3.3"/>
<circle cx="459.8" cy="408.0" r="14.8" fill="none" stroke="#000" stroke-width="3.3"/>
<circle cx="440.1" cy="410.5" r="14.8" fill="none" stroke="#000" stroke-width="3.3"/>
<circle cx="427.7" cy="413.0" r="14.8" fill="none" stroke="#000" stroke-width="3.3"/>
<circle cx="395.7" cy="422.8" r="14.8" fill="none" stroke="#000" stroke-width="3.3"/>
<circle cx="368.6" cy="427.7" r="14.8" fill="none" stroke="#000" stroke-width="3.3"/>
<circle cx="351.4" cy="434.2" r="14.8" fill="none" stroke="#000" stroke-width="3.3"/>
<circle cx="324.2" cy="440.1" r="14.8" fill="none" stroke="#000" stroke-width="3.3"/>
<circle cx="292.2" cy="452.4" r="14.8" fill="none" stroke="#000" stroke-width="3.3"/>
<circle cx="270.0" cy="476.0" r="14.8" fill="none" stroke="#000" stroke-width="3.3"/>
<circle cx="255.0" cy="486.0" r="14.8" fill="none" stroke="#000" stroke-width="3.3"/>
<circle cx="242.0" cy="494.0" r="14.8" fill="none" stroke="#000" stroke-width="3.3"/>
<circle cx="229.0" cy="504.0" r="14.8" fill="none" stroke="#000" stroke-width="3.3"/>
<circle cx="252.0" cy="470.0" r="14.8" fill="none" stroke="#000" stroke-width="3.3"/>
<circle cx="285.0" cy="462.0" r="14.8" fill="none" stroke="#000" stroke-width="3.3"/>
<path d="M723.5 413.8L737.0 436.8H710.0Z" fill="none" stroke="#000" stroke-width="3.3" stroke-linejoin="miter"/>
<path d="M701.3 418.7L714.8 441.7H687.8Z" fill="none" stroke="#000" stroke-width="3.3" stroke-linejoin="miter"/>
<path d="M679.1 413.8L692.6 436.8H665.6Z" fill="none" stroke="#000" stroke-width="3.3" stroke-linejoin="miter"/>
<path d="M647.1 418.7L660.6 441.7H633.6Z" fill="none" stroke="#000" stroke-width="3.3" stroke-linejoin="miter"/>
<path d="M578.1 423.6L591.6 446.6H564.6Z" fill="none" stroke="#000" stroke-width="3.3" stroke-linejoin="miter"/>
<path d="M546.0 426.1L559.5 449.1H532.5Z" fill="none" stroke="#000" stroke-width="3.3" stroke-linejoin="miter"/>
<path d="M514.0 428.6L527.5 451.6H500.5Z" fill="none" stroke="#000" stroke-width="3.3" stroke-linejoin="miter"/>
<path d="M486.9 433.5L500.4 456.5H473.4Z" fill="none" stroke="#000" stroke-width="3.3" stroke-linejoin="miter"/>
<path d="M459.8 436.0L473.3 459.0H446.3Z" fill="none" stroke="#000" stroke-width="3.3" stroke-linejoin="miter"/>
<path d="M435.1 440.9L448.6 463.9H421.6Z" fill="none" stroke="#000" stroke-width="3.3" stroke-linejoin="miter"/>
<path d="M403.1 445.8L416.6 468.8H389.6Z" fill="none" stroke="#000" stroke-width="3.3" stroke-linejoin="miter"/>
<path d="M390.8 448.3L404.3 471.3H377.3Z" fill="none" stroke="#000" stroke-width="3.3" stroke-linejoin="miter"/>
<path d="M366.1 450.7L379.6 473.7H352.6Z" fill="none" stroke="#000" stroke-width="3.3" stroke-linejoin="miter"/>
<path d="M274.5 476.4L288.0 499.4H261.0Z" fill="none" stroke="#000" stroke-width="3.3" stroke-linejoin="miter"/>
<path d="M294.7 465.7L308.2 488.7H281.2Z" fill="none" stroke="#000" stroke-width="3.3" stroke-linejoin="miter"/>
<path d="M314.9 456.3L328.4 479.3H301.4Z" fill="none" stroke="#000" stroke-width="3.3" stroke-linejoin="miter"/>
<path d="M335.2 448.1L348.7 471.1H321.7Z" fill="none" stroke="#000" stroke-width="3.3" stroke-linejoin="miter"/>
<path d="M355.4 440.8L368.9 463.8H341.9Z" fill="none" stroke="#000" stroke-width="3.3" stroke-linejoin="miter"/>
<path d="M375.6 434.2L389.1 457.2H362.1Z" fill="none" stroke="#000" stroke-width="3.3" stroke-linejoin="miter"/>
<path d="M395.8 428.3L409.3 451.3H382.3Z" fill="none" stroke="#000" stroke-width="3.3" stroke-linejoin="miter"/>
<rect x="623.5" y="501.3" width="357.5" height="143.7" fill="#fff" stroke="#000" stroke-width="1.8"/>
<path d="M667.5 521.5L681.0 544.5H654.0Z" fill="none" stroke="#000" stroke-width="3.3" stroke-linejoin="miter"/>
<text x="713" y="544" font-family='"Liberation Serif", serif' font-size="26.3" letter-spacing="0.55">Исп. обр. с глуб. 3,5 м</text>
<circle cx="667.5" cy="577.0" r="14.8" fill="none" stroke="#000" stroke-width="3.3"/>
<text x="713" y="584" font-family='"Liberation Serif", serif' font-size="26.3" letter-spacing="0.55">Исп. обр. с глуб. 6,5 м</text>
<path d="M640.5 614.4H694.5" stroke="#000" stroke-width="8" stroke-linecap="round"/>
<text x="713" y="622.5" font-family='"Liberation Serif", serif' font-size="26.3" letter-spacing="0.35">Численное моделир.</text>
<rect x="1684.7" y="83" width="356.5" height="143.7" fill="#fff" stroke="#000" stroke-width="1.8"/>
<circle cx="1729.0" cy="120.3" r="14.8" fill="none" stroke="#000" stroke-width="3.3"/>
<text x="1773" y="126.4" font-family='"Liberation Serif", serif' font-size="26.3" letter-spacing="0.55">Исп. обр. с глуб. 3,5 м</text>
<path d="M1729.0 173.5L1742.5 150.5H1715.5Z" fill="none" stroke="#000" stroke-width="3.3" stroke-linejoin="miter"/>
<text x="1773" y="166.3" font-family='"Liberation Serif", serif' font-size="26.3" letter-spacing="0.55">Исп. обр. с глуб. 6,5 м</text>
<path d="M1702 196.6H1756" stroke="#000" stroke-width="8" stroke-linecap="round"/>
<text x="1773" y="204.5" font-family='"Liberation Serif", serif' font-size="26.3" letter-spacing="0.35">Численное моделир.</text></svg>
</body></html>
